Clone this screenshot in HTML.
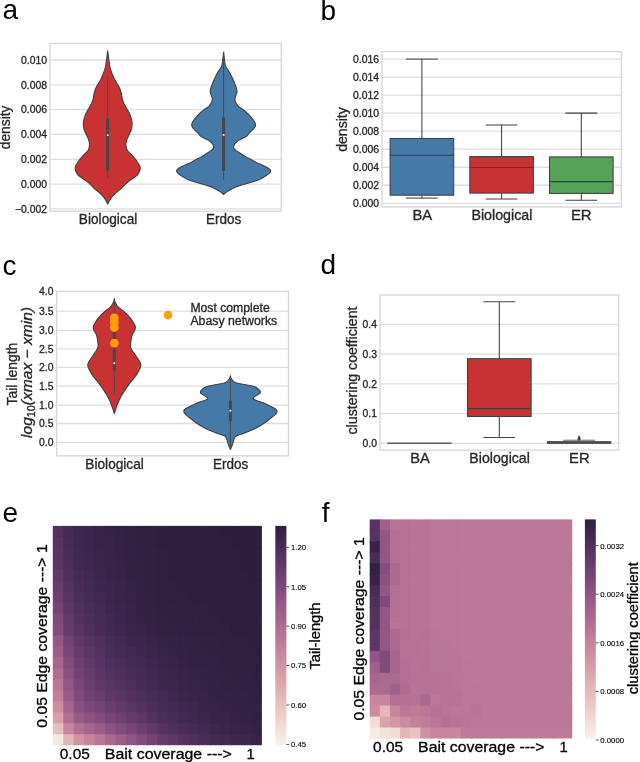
<!DOCTYPE html>
<html><head><meta charset="utf-8"><style>
html,body{margin:0;padding:0;background:#fff;}
svg{display:block;will-change:transform;font-family:"Liberation Sans", sans-serif;}
</style></head><body>
<svg width="640" height="762" viewBox="0 0 640 762">
<rect width="640" height="762" fill="#fff"/>
<text x="2.5" y="18.6" font-size="28" text-anchor="start" fill="#000000" style="">a</text>
<text x="320.5" y="19.7" font-size="28" text-anchor="start" fill="#000000" style="">b</text>
<text x="2.5" y="274.7" font-size="28" text-anchor="start" fill="#000000" style="">c</text>
<text x="320.5" y="274.4" font-size="28" text-anchor="start" fill="#000000" style="">d</text>
<text x="2.5" y="521.6" font-size="28" text-anchor="start" fill="#000000" style="">e</text>
<text x="321.8" y="521.9" font-size="28" text-anchor="start" fill="#000000" style="">f</text>
<line x1="50" y1="60.00" x2="281.25" y2="60.00" stroke="#dedede" stroke-width="1.3"/>
<line x1="50" y1="84.82" x2="281.25" y2="84.82" stroke="#dedede" stroke-width="1.3"/>
<line x1="50" y1="109.64" x2="281.25" y2="109.64" stroke="#dedede" stroke-width="1.3"/>
<line x1="50" y1="134.46" x2="281.25" y2="134.46" stroke="#dedede" stroke-width="1.3"/>
<line x1="50" y1="159.28" x2="281.25" y2="159.28" stroke="#dedede" stroke-width="1.3"/>
<line x1="50" y1="184.10" x2="281.25" y2="184.10" stroke="#dedede" stroke-width="1.3"/>
<line x1="50" y1="208.92" x2="281.25" y2="208.92" stroke="#dedede" stroke-width="1.3"/>
<rect x="50" y="43.4" width="231.25" height="167.79999999999998" fill="none" stroke="#d6d6d6" stroke-width="1.3"/>
<text x="47" y="63.7" font-size="10.4" text-anchor="end" fill="#262626" style="" stroke="#262626" stroke-width="0.3">0.010</text>
<text x="47" y="88.52" font-size="10.4" text-anchor="end" fill="#262626" style="" stroke="#262626" stroke-width="0.3">0.008</text>
<text x="47" y="113.33999999999999" font-size="10.4" text-anchor="end" fill="#262626" style="" stroke="#262626" stroke-width="0.3">0.006</text>
<text x="47" y="138.15999999999997" font-size="10.4" text-anchor="end" fill="#262626" style="" stroke="#262626" stroke-width="0.3">0.004</text>
<text x="47" y="162.98" font-size="10.4" text-anchor="end" fill="#262626" style="" stroke="#262626" stroke-width="0.3">0.002</text>
<text x="47" y="187.79999999999998" font-size="10.4" text-anchor="end" fill="#262626" style="" stroke="#262626" stroke-width="0.3">0.000</text>
<text x="47" y="212.61999999999998" font-size="10.4" text-anchor="end" fill="#262626" style="" stroke="#262626" stroke-width="0.3">−0.002</text>
<text x="10.3" y="127.4" font-size="14.2" text-anchor="middle" fill="#262626" transform="rotate(-90 10.3 127.4)" textLength="43.6" lengthAdjust="spacingAndGlyphs" style="" stroke="#262626" stroke-width="0.3">density</text>
<path d="M107.70,50.80 L107.86,52.09 L108.02,53.38 L108.19,54.67 L108.36,55.96 L108.53,57.25 L108.71,58.54 L108.89,59.83 L109.07,61.12 L109.26,62.41 L109.43,63.70 L109.61,64.99 L109.82,66.28 L110.09,67.57 L110.45,68.86 L110.86,70.15 L111.31,71.44 L111.76,72.73 L112.23,74.02 L112.75,75.31 L113.29,76.60 L113.88,77.89 L114.54,79.18 L115.26,80.47 L116.00,81.76 L116.73,83.05 L117.49,84.34 L118.29,85.63 L119.04,86.92 L119.66,88.21 L120.16,89.50 L120.59,90.79 L120.96,92.08 L121.29,93.37 L121.54,94.66 L121.76,95.95 L121.98,97.24 L122.24,98.53 L122.57,99.82 L123.00,101.11 L123.51,102.40 L124.06,103.69 L124.66,104.98 L125.34,106.27 L126.05,107.56 L126.79,108.85 L127.59,110.14 L128.37,111.43 L129.07,112.72 L129.64,114.01 L130.16,115.30 L130.63,116.59 L131.03,117.88 L131.38,119.17 L131.72,120.46 L131.99,121.75 L132.10,123.04 L132.06,124.33 L131.97,125.62 L131.84,126.91 L131.67,128.19 L131.36,129.48 L130.89,130.77 L130.31,132.06 L129.71,133.35 L129.15,134.64 L128.52,135.93 L127.84,137.22 L127.22,138.51 L126.75,139.80 L126.42,141.09 L126.13,142.38 L125.94,143.67 L125.91,144.96 L126.03,146.25 L126.26,147.54 L126.58,148.83 L127.05,150.12 L128.03,151.41 L129.32,152.70 L130.72,153.99 L132.01,155.28 L133.13,156.57 L134.27,157.86 L135.36,159.15 L136.33,160.44 L137.18,161.73 L138.05,163.02 L138.89,164.31 L139.59,165.60 L140.06,166.89 L140.20,168.18 L140.04,169.47 L139.68,170.76 L139.16,172.05 L138.52,173.34 L137.78,174.63 L136.44,175.92 L134.59,177.21 L132.61,178.50 L130.85,179.79 L129.12,181.08 L127.43,182.37 L125.91,183.66 L124.62,184.95 L123.43,186.24 L122.19,187.53 L120.77,188.82 L119.20,190.11 L117.60,191.40 L116.10,192.69 L114.67,193.98 L113.30,195.27 L112.11,196.56 L111.14,197.85 L110.29,199.14 L109.54,200.43 L108.85,201.72 L108.24,203.01 L107.70,204.30 L107.70,204.30 L107.16,203.01 L106.55,201.72 L105.86,200.43 L105.11,199.14 L104.26,197.85 L103.29,196.56 L102.10,195.27 L100.73,193.98 L99.30,192.69 L97.80,191.40 L96.20,190.11 L94.63,188.82 L93.21,187.53 L91.97,186.24 L90.78,184.95 L89.49,183.66 L87.97,182.37 L86.28,181.08 L84.55,179.79 L82.79,178.50 L80.81,177.21 L78.96,175.92 L77.62,174.63 L76.88,173.34 L76.24,172.05 L75.72,170.76 L75.36,169.47 L75.20,168.18 L75.34,166.89 L75.81,165.60 L76.51,164.31 L77.35,163.02 L78.22,161.73 L79.07,160.44 L80.04,159.15 L81.13,157.86 L82.27,156.57 L83.39,155.28 L84.68,153.99 L86.08,152.70 L87.37,151.41 L88.35,150.12 L88.82,148.83 L89.14,147.54 L89.37,146.25 L89.49,144.96 L89.46,143.67 L89.27,142.38 L88.98,141.09 L88.65,139.80 L88.18,138.51 L87.56,137.22 L86.88,135.93 L86.25,134.64 L85.69,133.35 L85.09,132.06 L84.51,130.77 L84.04,129.48 L83.73,128.19 L83.56,126.91 L83.43,125.62 L83.34,124.33 L83.30,123.04 L83.41,121.75 L83.68,120.46 L84.02,119.17 L84.37,117.88 L84.77,116.59 L85.24,115.30 L85.76,114.01 L86.33,112.72 L87.03,111.43 L87.81,110.14 L88.61,108.85 L89.35,107.56 L90.06,106.27 L90.74,104.98 L91.34,103.69 L91.89,102.40 L92.40,101.11 L92.83,99.82 L93.16,98.53 L93.42,97.24 L93.64,95.95 L93.86,94.66 L94.11,93.37 L94.44,92.08 L94.81,90.79 L95.24,89.50 L95.74,88.21 L96.36,86.92 L97.11,85.63 L97.91,84.34 L98.67,83.05 L99.40,81.76 L100.14,80.47 L100.86,79.18 L101.52,77.89 L102.11,76.60 L102.65,75.31 L103.17,74.02 L103.64,72.73 L104.09,71.44 L104.54,70.15 L104.95,68.86 L105.31,67.57 L105.58,66.28 L105.79,64.99 L105.97,63.70 L106.14,62.41 L106.33,61.12 L106.51,59.83 L106.69,58.54 L106.87,57.25 L107.04,55.96 L107.21,54.67 L107.38,53.38 L107.54,52.09 L107.70,50.80 Z" fill="#c93232" stroke="#3f3f3f" stroke-width="1.1" stroke-linejoin="round"/>
<line x1="107.7" y1="76.5" x2="107.7" y2="178.2" stroke="#4a4a4a" stroke-width="1.0"/>
<rect x="106.2" y="118.3" width="3" height="52.3" fill="#474747"/>
<ellipse cx="107.7" cy="135.2" rx="1.1" ry="0.9" fill="#ffffff"/>
<path d="M223.60,52.00 L223.74,53.20 L223.87,54.39 L224.01,55.59 L224.16,56.79 L224.30,57.99 L224.43,59.18 L224.55,60.38 L224.67,61.58 L224.82,62.78 L225.00,63.97 L225.27,65.17 L225.74,66.37 L226.37,67.57 L227.11,68.76 L227.90,69.96 L228.70,71.16 L229.44,72.36 L230.08,73.55 L230.69,74.75 L231.30,75.95 L231.91,77.15 L232.50,78.34 L233.07,79.54 L233.61,80.74 L234.12,81.94 L234.59,83.13 L235.02,84.33 L235.45,85.53 L235.90,86.73 L236.31,87.92 L236.66,89.12 L236.90,90.32 L237.00,91.52 L236.88,92.71 L236.54,93.91 L236.07,95.11 L235.58,96.31 L235.17,97.50 L234.93,98.70 L234.95,99.90 L235.21,101.10 L235.69,102.29 L236.33,103.49 L237.08,104.69 L237.92,105.89 L239.16,107.08 L240.99,108.28 L242.89,109.48 L244.45,110.68 L245.92,111.87 L247.32,113.07 L248.55,114.27 L249.59,115.47 L250.61,116.66 L251.63,117.86 L252.61,119.06 L253.51,120.26 L254.29,121.45 L254.91,122.65 L255.33,123.85 L255.50,125.05 L255.31,126.24 L254.67,127.44 L253.71,128.64 L252.54,129.84 L251.26,131.03 L250.00,132.23 L248.87,133.43 L247.95,134.63 L246.98,135.82 L245.34,137.02 L242.97,138.22 L240.40,139.42 L238.19,140.61 L236.75,141.81 L235.53,143.01 L234.53,144.21 L233.90,145.40 L233.67,146.60 L233.63,147.80 L234.31,149.00 L235.67,150.19 L237.42,151.39 L239.27,152.59 L240.99,153.79 L242.83,154.98 L244.85,156.18 L247.00,157.38 L249.22,158.58 L251.46,159.77 L253.67,160.97 L255.80,162.17 L258.19,163.37 L260.88,164.56 L263.64,165.76 L266.22,166.96 L268.40,168.16 L269.93,169.35 L270.59,170.55 L270.36,171.75 L269.56,172.95 L268.29,174.14 L266.65,175.34 L264.73,176.54 L262.64,177.74 L260.47,178.93 L258.00,180.13 L254.55,181.33 L250.43,182.53 L246.04,183.72 L241.77,184.92 L238.00,186.12 L235.08,187.32 L232.57,188.51 L230.31,189.71 L228.28,190.91 L226.47,192.11 L224.91,193.30 L223.60,194.50 L223.60,194.50 L222.29,193.30 L220.73,192.11 L218.92,190.91 L216.89,189.71 L214.63,188.51 L212.12,187.32 L209.20,186.12 L205.43,184.92 L201.16,183.72 L196.77,182.53 L192.65,181.33 L189.20,180.13 L186.73,178.93 L184.56,177.74 L182.47,176.54 L180.55,175.34 L178.91,174.14 L177.64,172.95 L176.84,171.75 L176.61,170.55 L177.27,169.35 L178.80,168.16 L180.98,166.96 L183.56,165.76 L186.32,164.56 L189.01,163.37 L191.40,162.17 L193.53,160.97 L195.74,159.77 L197.98,158.58 L200.20,157.38 L202.35,156.18 L204.37,154.98 L206.21,153.79 L207.93,152.59 L209.78,151.39 L211.53,150.19 L212.89,149.00 L213.57,147.80 L213.53,146.60 L213.30,145.40 L212.67,144.21 L211.67,143.01 L210.45,141.81 L209.01,140.61 L206.80,139.42 L204.23,138.22 L201.86,137.02 L200.22,135.82 L199.25,134.63 L198.33,133.43 L197.20,132.23 L195.94,131.03 L194.66,129.84 L193.49,128.64 L192.53,127.44 L191.89,126.24 L191.70,125.05 L191.87,123.85 L192.29,122.65 L192.91,121.45 L193.69,120.26 L194.59,119.06 L195.57,117.86 L196.59,116.66 L197.61,115.47 L198.65,114.27 L199.88,113.07 L201.28,111.87 L202.75,110.68 L204.31,109.48 L206.21,108.28 L208.04,107.08 L209.28,105.89 L210.12,104.69 L210.87,103.49 L211.51,102.29 L211.99,101.10 L212.25,99.90 L212.27,98.70 L212.03,97.50 L211.62,96.31 L211.13,95.11 L210.66,93.91 L210.32,92.71 L210.20,91.52 L210.30,90.32 L210.54,89.12 L210.89,87.92 L211.30,86.73 L211.75,85.53 L212.18,84.33 L212.61,83.13 L213.08,81.94 L213.59,80.74 L214.13,79.54 L214.70,78.34 L215.29,77.15 L215.90,75.95 L216.51,74.75 L217.12,73.55 L217.76,72.36 L218.50,71.16 L219.30,69.96 L220.09,68.76 L220.83,67.57 L221.46,66.37 L221.93,65.17 L222.20,63.97 L222.38,62.78 L222.53,61.58 L222.65,60.38 L222.77,59.18 L222.90,57.99 L223.04,56.79 L223.19,55.59 L223.33,54.39 L223.46,53.20 L223.60,52.00 Z" fill="#4479a8" stroke="#3f3f3f" stroke-width="1.1" stroke-linejoin="round"/>
<line x1="223.6" y1="52" x2="223.6" y2="179.9" stroke="#4a4a4a" stroke-width="1.0"/>
<rect x="222.1" y="117.4" width="3" height="53.5" fill="#474747"/>
<ellipse cx="223.6" cy="134.9" rx="1.1" ry="0.9" fill="#ffffff"/>
<text x="108.1" y="223.6" font-size="14.2" text-anchor="middle" fill="#262626" textLength="58.5" lengthAdjust="spacingAndGlyphs" style="" stroke="#262626" stroke-width="0.3">Biological</text>
<text x="223.6" y="223.6" font-size="14.2" text-anchor="middle" fill="#262626" textLength="35.3" lengthAdjust="spacingAndGlyphs" style="" stroke="#262626" stroke-width="0.3">Erdos</text>
<line x1="382" y1="203.30" x2="621.25" y2="203.30" stroke="#dedede" stroke-width="1.3"/>
<line x1="382" y1="185.27" x2="621.25" y2="185.27" stroke="#dedede" stroke-width="1.3"/>
<line x1="382" y1="167.24" x2="621.25" y2="167.24" stroke="#dedede" stroke-width="1.3"/>
<line x1="382" y1="149.21" x2="621.25" y2="149.21" stroke="#dedede" stroke-width="1.3"/>
<line x1="382" y1="131.18" x2="621.25" y2="131.18" stroke="#dedede" stroke-width="1.3"/>
<line x1="382" y1="113.15" x2="621.25" y2="113.15" stroke="#dedede" stroke-width="1.3"/>
<line x1="382" y1="95.12" x2="621.25" y2="95.12" stroke="#dedede" stroke-width="1.3"/>
<line x1="382" y1="77.09" x2="621.25" y2="77.09" stroke="#dedede" stroke-width="1.3"/>
<line x1="382" y1="59.06" x2="621.25" y2="59.06" stroke="#dedede" stroke-width="1.3"/>
<rect x="382" y="51.7" width="239.25" height="155.3" fill="none" stroke="#d6d6d6" stroke-width="1.3"/>
<text x="379" y="207.0" font-size="10.4" text-anchor="end" fill="#262626" style="" stroke="#262626" stroke-width="0.3">0.000</text>
<text x="379" y="188.97" font-size="10.4" text-anchor="end" fill="#262626" style="" stroke="#262626" stroke-width="0.3">0.002</text>
<text x="379" y="170.94" font-size="10.4" text-anchor="end" fill="#262626" style="" stroke="#262626" stroke-width="0.3">0.004</text>
<text x="379" y="152.91" font-size="10.4" text-anchor="end" fill="#262626" style="" stroke="#262626" stroke-width="0.3">0.006</text>
<text x="379" y="134.88" font-size="10.4" text-anchor="end" fill="#262626" style="" stroke="#262626" stroke-width="0.3">0.008</text>
<text x="379" y="116.85000000000001" font-size="10.4" text-anchor="end" fill="#262626" style="" stroke="#262626" stroke-width="0.3">0.010</text>
<text x="379" y="98.82000000000001" font-size="10.4" text-anchor="end" fill="#262626" style="" stroke="#262626" stroke-width="0.3">0.012</text>
<text x="379" y="80.79" font-size="10.4" text-anchor="end" fill="#262626" style="" stroke="#262626" stroke-width="0.3">0.014</text>
<text x="379" y="62.760000000000005" font-size="10.4" text-anchor="end" fill="#262626" style="" stroke="#262626" stroke-width="0.3">0.016</text>
<text x="346.9" y="129.5" font-size="14.2" text-anchor="middle" fill="#262626" transform="rotate(-90 346.9 129.5)" textLength="44.6" lengthAdjust="spacingAndGlyphs" style="" stroke="#262626" stroke-width="0.3">density</text>
<line x1="421.9" y1="59.1" x2="421.9" y2="138.5" stroke="#3f3f3f" stroke-width="1.05"/>
<line x1="421.9" y1="195.2" x2="421.9" y2="198.1" stroke="#3f3f3f" stroke-width="1.05"/>
<line x1="406.0" y1="59.1" x2="437.79999999999995" y2="59.1" stroke="#3f3f3f" stroke-width="1.05"/>
<line x1="406.0" y1="198.1" x2="437.79999999999995" y2="198.1" stroke="#3f3f3f" stroke-width="1.05"/>
<rect x="390.09999999999997" y="138.5" width="63.6" height="56.69999999999999" fill="#4479a8" stroke="#3f3f3f" stroke-width="1.05"/>
<line x1="390.09999999999997" y1="155.3" x2="453.7" y2="155.3" stroke="#3f3f3f" stroke-width="1.05"/>
<line x1="501.6" y1="125.0" x2="501.6" y2="156.6" stroke="#3f3f3f" stroke-width="1.05"/>
<line x1="501.6" y1="193.1" x2="501.6" y2="199.0" stroke="#3f3f3f" stroke-width="1.05"/>
<line x1="485.70000000000005" y1="125.0" x2="517.5" y2="125.0" stroke="#3f3f3f" stroke-width="1.05"/>
<line x1="485.70000000000005" y1="199.0" x2="517.5" y2="199.0" stroke="#3f3f3f" stroke-width="1.05"/>
<rect x="469.8" y="156.6" width="63.6" height="36.5" fill="#c93232" stroke="#3f3f3f" stroke-width="1.05"/>
<line x1="469.8" y1="167.5" x2="533.4" y2="167.5" stroke="#3f3f3f" stroke-width="1.05"/>
<line x1="581.3" y1="113.1" x2="581.3" y2="156.9" stroke="#3f3f3f" stroke-width="1.05"/>
<line x1="581.3" y1="193.4" x2="581.3" y2="200.3" stroke="#3f3f3f" stroke-width="1.05"/>
<line x1="565.4" y1="113.1" x2="597.1999999999999" y2="113.1" stroke="#3f3f3f" stroke-width="1.05"/>
<line x1="565.4" y1="200.3" x2="597.1999999999999" y2="200.3" stroke="#3f3f3f" stroke-width="1.05"/>
<rect x="549.5" y="156.9" width="63.6" height="36.5" fill="#58a257" stroke="#3f3f3f" stroke-width="1.05"/>
<line x1="549.5" y1="181.6" x2="613.0999999999999" y2="181.6" stroke="#3f3f3f" stroke-width="1.05"/>
<text x="422.3" y="219.9" font-size="14.0" text-anchor="middle" fill="#262626" textLength="19.8" lengthAdjust="spacingAndGlyphs" style="" stroke="#262626" stroke-width="0.3">BA</text>
<text x="501.9" y="219.9" font-size="14.0" text-anchor="middle" fill="#262626" textLength="61" lengthAdjust="spacingAndGlyphs" style="" stroke="#262626" stroke-width="0.3">Biological</text>
<text x="581.3" y="219.9" font-size="14.0" text-anchor="middle" fill="#262626" textLength="20.8" lengthAdjust="spacingAndGlyphs" style="" stroke="#262626" stroke-width="0.3">ER</text>
<line x1="56.7" y1="442.30" x2="288.4" y2="442.30" stroke="#dedede" stroke-width="1.3"/>
<line x1="56.7" y1="423.50" x2="288.4" y2="423.50" stroke="#dedede" stroke-width="1.3"/>
<line x1="56.7" y1="405.10" x2="288.4" y2="405.10" stroke="#dedede" stroke-width="1.3"/>
<line x1="56.7" y1="386.20" x2="288.4" y2="386.20" stroke="#dedede" stroke-width="1.3"/>
<line x1="56.7" y1="367.40" x2="288.4" y2="367.40" stroke="#dedede" stroke-width="1.3"/>
<line x1="56.7" y1="348.90" x2="288.4" y2="348.90" stroke="#dedede" stroke-width="1.3"/>
<line x1="56.7" y1="330.40" x2="288.4" y2="330.40" stroke="#dedede" stroke-width="1.3"/>
<line x1="56.7" y1="311.20" x2="288.4" y2="311.20" stroke="#dedede" stroke-width="1.3"/>
<line x1="56.7" y1="291.60" x2="288.4" y2="291.60" stroke="#dedede" stroke-width="1.3"/>
<rect x="56.7" y="291.3" width="231.7" height="164.59999999999997" fill="none" stroke="#d6d6d6" stroke-width="1.3"/>
<text x="53.5" y="446.0" font-size="10.4" text-anchor="end" fill="#262626" style="" stroke="#262626" stroke-width="0.3">0.0</text>
<text x="53.5" y="427.2" font-size="10.4" text-anchor="end" fill="#262626" style="" stroke="#262626" stroke-width="0.3">0.5</text>
<text x="53.5" y="408.8" font-size="10.4" text-anchor="end" fill="#262626" style="" stroke="#262626" stroke-width="0.3">1.0</text>
<text x="53.5" y="389.9" font-size="10.4" text-anchor="end" fill="#262626" style="" stroke="#262626" stroke-width="0.3">1.5</text>
<text x="53.5" y="371.09999999999997" font-size="10.4" text-anchor="end" fill="#262626" style="" stroke="#262626" stroke-width="0.3">2.0</text>
<text x="53.5" y="352.59999999999997" font-size="10.4" text-anchor="end" fill="#262626" style="" stroke="#262626" stroke-width="0.3">2.5</text>
<text x="53.5" y="334.09999999999997" font-size="10.4" text-anchor="end" fill="#262626" style="" stroke="#262626" stroke-width="0.3">3.0</text>
<text x="53.5" y="314.9" font-size="10.4" text-anchor="end" fill="#262626" style="" stroke="#262626" stroke-width="0.3">3.5</text>
<text x="53.5" y="295.3" font-size="10.4" text-anchor="end" fill="#262626" style="" stroke="#262626" stroke-width="0.3">4.0</text>
<text x="16.9" y="374.1" font-size="14.3" text-anchor="middle" fill="#262626" transform="rotate(-90 16.9 374.1)" textLength="63" lengthAdjust="spacingAndGlyphs" style="" stroke="#262626" stroke-width="0.3">Tail length</text>
<text x="31.8" y="372.5" font-size="14.5" text-anchor="middle" fill="#262626" transform="rotate(-90 31.8 372.5)" textLength="131" lengthAdjust="spacingAndGlyphs" style="font-style:italic" stroke="#262626" stroke-width="0.3">log<tspan font-size="10" dy="3" font-style="normal">10</tspan><tspan dy="-3">(xmax − xmin)</tspan></text>
<path d="M114.30,298.50 L114.37,299.47 L114.58,300.44 L114.89,301.40 L115.30,302.37 L115.77,303.34 L116.29,304.31 L116.83,305.28 L117.51,306.24 L118.47,307.21 L119.62,308.18 L120.90,309.15 L122.20,310.12 L123.45,311.08 L124.55,312.05 L125.52,313.02 L126.49,313.99 L127.45,314.96 L128.38,315.93 L129.27,316.89 L130.12,317.86 L130.90,318.83 L131.61,319.80 L132.24,320.77 L132.85,321.73 L133.47,322.70 L134.07,323.67 L134.60,324.64 L135.02,325.61 L135.30,326.57 L135.40,327.54 L135.28,328.51 L134.99,329.48 L134.55,330.45 L134.03,331.41 L133.47,332.38 L132.92,333.35 L132.42,334.32 L132.02,335.29 L131.77,336.25 L131.58,337.22 L131.40,338.19 L131.22,339.16 L131.06,340.13 L130.91,341.09 L130.78,342.06 L130.67,343.03 L130.59,344.00 L130.53,344.97 L130.50,345.94 L130.55,346.90 L130.79,347.87 L131.22,348.84 L131.77,349.81 L132.43,350.78 L133.13,351.74 L133.84,352.71 L134.51,353.68 L135.12,354.65 L135.68,355.62 L136.31,356.58 L137.00,357.55 L137.70,358.52 L138.39,359.49 L139.04,360.46 L139.63,361.42 L140.13,362.39 L140.51,363.36 L140.74,364.33 L140.80,365.30 L140.68,366.26 L140.42,367.23 L140.05,368.20 L139.60,369.17 L139.11,370.14 L138.60,371.11 L138.11,372.07 L137.59,373.04 L137.00,374.01 L136.35,374.98 L135.65,375.95 L134.90,376.91 L134.13,377.88 L133.34,378.85 L132.53,379.82 L131.73,380.79 L130.92,381.75 L130.14,382.72 L129.38,383.69 L128.66,384.66 L127.98,385.63 L127.33,386.59 L126.67,387.56 L126.02,388.53 L125.37,389.50 L124.72,390.47 L124.09,391.43 L123.46,392.40 L122.85,393.37 L122.26,394.34 L121.68,395.31 L121.13,396.27 L120.59,397.24 L120.09,398.21 L119.61,399.18 L119.16,400.15 L118.73,401.12 L118.32,402.08 L117.92,403.05 L117.54,404.02 L117.18,404.99 L116.82,405.96 L116.47,406.92 L116.13,407.89 L115.80,408.86 L115.48,409.83 L115.17,410.80 L114.87,411.76 L114.58,412.73 L114.30,413.70 L114.30,413.70 L114.02,412.73 L113.73,411.76 L113.43,410.80 L113.12,409.83 L112.80,408.86 L112.47,407.89 L112.13,406.92 L111.78,405.96 L111.42,404.99 L111.06,404.02 L110.68,403.05 L110.28,402.08 L109.87,401.12 L109.44,400.15 L108.99,399.18 L108.51,398.21 L108.01,397.24 L107.47,396.27 L106.92,395.31 L106.34,394.34 L105.75,393.37 L105.14,392.40 L104.51,391.43 L103.88,390.47 L103.23,389.50 L102.58,388.53 L101.93,387.56 L101.27,386.59 L100.62,385.63 L99.94,384.66 L99.22,383.69 L98.46,382.72 L97.68,381.75 L96.87,380.79 L96.07,379.82 L95.26,378.85 L94.47,377.88 L93.70,376.91 L92.95,375.95 L92.25,374.98 L91.60,374.01 L91.01,373.04 L90.49,372.07 L90.00,371.11 L89.49,370.14 L89.00,369.17 L88.55,368.20 L88.18,367.23 L87.92,366.26 L87.80,365.30 L87.86,364.33 L88.09,363.36 L88.47,362.39 L88.97,361.42 L89.56,360.46 L90.21,359.49 L90.90,358.52 L91.60,357.55 L92.29,356.58 L92.92,355.62 L93.48,354.65 L94.09,353.68 L94.76,352.71 L95.47,351.74 L96.17,350.78 L96.83,349.81 L97.38,348.84 L97.81,347.87 L98.05,346.90 L98.10,345.94 L98.07,344.97 L98.01,344.00 L97.93,343.03 L97.82,342.06 L97.69,341.09 L97.54,340.13 L97.38,339.16 L97.20,338.19 L97.02,337.22 L96.83,336.25 L96.58,335.29 L96.18,334.32 L95.68,333.35 L95.13,332.38 L94.57,331.41 L94.05,330.45 L93.61,329.48 L93.32,328.51 L93.20,327.54 L93.30,326.57 L93.58,325.61 L94.00,324.64 L94.53,323.67 L95.13,322.70 L95.75,321.73 L96.36,320.77 L96.99,319.80 L97.70,318.83 L98.48,317.86 L99.33,316.89 L100.22,315.93 L101.15,314.96 L102.11,313.99 L103.08,313.02 L104.05,312.05 L105.15,311.08 L106.40,310.12 L107.70,309.15 L108.98,308.18 L110.13,307.21 L111.09,306.24 L111.77,305.28 L112.31,304.31 L112.83,303.34 L113.30,302.37 L113.71,301.40 L114.02,300.44 L114.23,299.47 L114.30,298.50 Z" fill="#c93232" stroke="#3f3f3f" stroke-width="1.1" stroke-linejoin="round"/>
<line x1="114.3" y1="300" x2="114.3" y2="395.1" stroke="#4a4a4a" stroke-width="1.0"/>
<rect x="112.8" y="331.6" width="3" height="38.799999999999955" fill="#474747"/>
<ellipse cx="114.3" cy="363.1" rx="1.1" ry="0.9" fill="#ffffff"/>
<circle cx="114.3" cy="317.8" r="4.4" fill="#ff9f00"/>
<circle cx="114.3" cy="322.2" r="4.4" fill="#ff9f00"/>
<circle cx="114.3" cy="327.5" r="4.4" fill="#ff9f00"/>
<circle cx="114.3" cy="343.1" r="4.4" fill="#ff9f00"/>
<path d="M230.40,375.50 L230.44,376.12 L230.57,376.74 L230.77,377.36 L231.04,377.98 L231.39,378.61 L231.79,379.23 L232.26,379.85 L232.79,380.47 L233.37,381.09 L233.99,381.71 L234.83,382.33 L236.66,382.95 L239.32,383.57 L242.50,384.19 L245.91,384.82 L249.25,385.44 L252.22,386.06 L254.51,386.68 L255.85,387.30 L256.75,387.92 L257.60,388.54 L258.37,389.16 L259.04,389.78 L259.60,390.40 L260.03,391.03 L260.30,391.65 L260.40,392.27 L260.21,392.89 L259.66,393.51 L258.84,394.13 L257.85,394.75 L256.76,395.37 L255.68,395.99 L254.69,396.61 L253.89,397.24 L253.36,397.86 L253.21,398.48 L253.64,399.10 L254.65,399.72 L256.09,400.34 L257.83,400.96 L259.70,401.58 L261.57,402.20 L263.28,402.82 L264.69,403.45 L265.91,404.07 L267.19,404.69 L268.50,405.31 L269.83,405.93 L271.13,406.55 L272.38,407.17 L273.54,407.79 L274.58,408.41 L275.48,409.03 L276.19,409.66 L276.70,410.28 L276.97,410.90 L276.98,411.52 L276.83,412.14 L276.55,412.76 L276.15,413.38 L275.64,414.00 L275.05,414.62 L274.38,415.24 L273.65,415.87 L272.88,416.49 L272.08,417.11 L271.26,417.73 L270.44,418.35 L269.63,418.97 L268.85,419.59 L268.10,420.21 L267.32,420.83 L266.51,421.45 L265.67,422.08 L264.80,422.70 L263.90,423.32 L262.97,423.94 L262.00,424.56 L261.00,425.18 L259.97,425.80 L258.91,426.42 L257.81,427.04 L256.68,427.66 L255.52,428.29 L254.29,428.91 L252.95,429.53 L251.52,430.15 L250.02,430.77 L248.48,431.39 L246.91,432.01 L245.33,432.63 L243.73,433.25 L241.87,433.87 L239.90,434.50 L238.06,435.12 L236.60,435.74 L235.73,436.36 L235.16,436.98 L234.71,437.60 L234.34,438.22 L234.06,438.84 L233.85,439.46 L233.68,440.08 L233.55,440.71 L233.41,441.33 L233.27,441.95 L233.09,442.57 L232.90,443.19 L232.70,443.81 L232.48,444.43 L232.26,445.05 L232.02,445.67 L231.78,446.29 L231.53,446.92 L231.27,447.54 L230.99,448.16 L230.70,448.78 L230.40,449.40 L230.40,449.40 L230.10,448.78 L229.81,448.16 L229.53,447.54 L229.27,446.92 L229.02,446.29 L228.78,445.67 L228.54,445.05 L228.32,444.43 L228.10,443.81 L227.90,443.19 L227.71,442.57 L227.53,441.95 L227.39,441.33 L227.25,440.71 L227.12,440.08 L226.95,439.46 L226.74,438.84 L226.46,438.22 L226.09,437.60 L225.64,436.98 L225.07,436.36 L224.20,435.74 L222.74,435.12 L220.90,434.50 L218.93,433.87 L217.07,433.25 L215.47,432.63 L213.89,432.01 L212.32,431.39 L210.78,430.77 L209.28,430.15 L207.85,429.53 L206.51,428.91 L205.28,428.29 L204.12,427.66 L202.99,427.04 L201.89,426.42 L200.83,425.80 L199.80,425.18 L198.80,424.56 L197.83,423.94 L196.90,423.32 L196.00,422.70 L195.13,422.08 L194.29,421.45 L193.48,420.83 L192.70,420.21 L191.95,419.59 L191.17,418.97 L190.36,418.35 L189.54,417.73 L188.72,417.11 L187.92,416.49 L187.15,415.87 L186.42,415.24 L185.75,414.62 L185.16,414.00 L184.65,413.38 L184.25,412.76 L183.97,412.14 L183.82,411.52 L183.83,410.90 L184.10,410.28 L184.61,409.66 L185.32,409.03 L186.22,408.41 L187.26,407.79 L188.42,407.17 L189.67,406.55 L190.97,405.93 L192.30,405.31 L193.61,404.69 L194.89,404.07 L196.11,403.45 L197.52,402.82 L199.23,402.20 L201.10,401.58 L202.97,400.96 L204.71,400.34 L206.15,399.72 L207.16,399.10 L207.59,398.48 L207.44,397.86 L206.91,397.24 L206.11,396.61 L205.12,395.99 L204.04,395.37 L202.95,394.75 L201.96,394.13 L201.14,393.51 L200.59,392.89 L200.40,392.27 L200.50,391.65 L200.77,391.03 L201.20,390.40 L201.76,389.78 L202.43,389.16 L203.20,388.54 L204.05,387.92 L204.95,387.30 L206.29,386.68 L208.58,386.06 L211.55,385.44 L214.89,384.82 L218.30,384.19 L221.48,383.57 L224.14,382.95 L225.97,382.33 L226.81,381.71 L227.43,381.09 L228.01,380.47 L228.54,379.85 L229.01,379.23 L229.41,378.61 L229.76,377.98 L230.03,377.36 L230.23,376.74 L230.36,376.12 L230.40,375.50 Z" fill="#4479a8" stroke="#3f3f3f" stroke-width="1.1" stroke-linejoin="round"/>
<line x1="230.4" y1="377" x2="230.4" y2="447" stroke="#4a4a4a" stroke-width="1.0"/>
<rect x="228.9" y="400.6" width="3" height="20.599999999999966" fill="#474747"/>
<ellipse cx="230.4" cy="410.7" rx="1.1" ry="0.9" fill="#ffffff"/>
<circle cx="168" cy="315" r="4.3" fill="#ff9f00"/>
<text x="190.4" y="311.8" font-size="12.3" text-anchor="start" fill="#262626" textLength="79.3" lengthAdjust="spacingAndGlyphs" style="" stroke="#262626" stroke-width="0.3">Most complete</text>
<text x="190.4" y="325.0" font-size="12.3" text-anchor="start" fill="#262626" textLength="86.8" lengthAdjust="spacingAndGlyphs" style="" stroke="#262626" stroke-width="0.3">Abasy networks</text>
<text x="114.6" y="468.75" font-size="14.2" text-anchor="middle" fill="#262626" textLength="58.5" lengthAdjust="spacingAndGlyphs" style="" stroke="#262626" stroke-width="0.3">Biological</text>
<text x="230.6" y="468.75" font-size="14.2" text-anchor="middle" fill="#262626" textLength="35.3" lengthAdjust="spacingAndGlyphs" style="" stroke="#262626" stroke-width="0.3">Erdos</text>
<line x1="379.9" y1="443.30" x2="618.7" y2="443.30" stroke="#dedede" stroke-width="1.3"/>
<line x1="379.9" y1="413.58" x2="618.7" y2="413.58" stroke="#dedede" stroke-width="1.3"/>
<line x1="379.9" y1="383.86" x2="618.7" y2="383.86" stroke="#dedede" stroke-width="1.3"/>
<line x1="379.9" y1="354.14" x2="618.7" y2="354.14" stroke="#dedede" stroke-width="1.3"/>
<line x1="379.9" y1="324.42" x2="618.7" y2="324.42" stroke="#dedede" stroke-width="1.3"/>
<rect x="379.9" y="295.0" width="238.80000000000007" height="155.10000000000002" fill="none" stroke="#d6d6d6" stroke-width="1.3"/>
<text x="377" y="447.0" font-size="10.4" text-anchor="end" fill="#262626" style="" stroke="#262626" stroke-width="0.3">0.0</text>
<text x="377" y="417.28000000000003" font-size="10.4" text-anchor="end" fill="#262626" style="" stroke="#262626" stroke-width="0.3">0.1</text>
<text x="377" y="387.56" font-size="10.4" text-anchor="end" fill="#262626" style="" stroke="#262626" stroke-width="0.3">0.2</text>
<text x="377" y="357.84" font-size="10.4" text-anchor="end" fill="#262626" style="" stroke="#262626" stroke-width="0.3">0.3</text>
<text x="377" y="328.12" font-size="10.4" text-anchor="end" fill="#262626" style="" stroke="#262626" stroke-width="0.3">0.4</text>
<text x="356.9" y="370.45" font-size="14.2" text-anchor="middle" fill="#262626" transform="rotate(-90 356.9 370.45)" textLength="128" lengthAdjust="spacingAndGlyphs" style="" stroke="#262626" stroke-width="0.3">clustering coefficient</text>
<line x1="387.3" y1="443.3" x2="451.6" y2="443.3" stroke="#5c5c5c" stroke-width="1.5"/>
<line x1="499.3" y1="301.7" x2="499.3" y2="358.7" stroke="#3f3f3f" stroke-width="1.05"/>
<line x1="499.3" y1="416.5" x2="499.3" y2="437.4" stroke="#3f3f3f" stroke-width="1.05"/>
<line x1="483.40000000000003" y1="301.7" x2="515.2" y2="301.7" stroke="#3f3f3f" stroke-width="1.05"/>
<line x1="483.40000000000003" y1="437.4" x2="515.2" y2="437.4" stroke="#3f3f3f" stroke-width="1.05"/>
<rect x="467.5" y="358.7" width="63.6" height="57.80000000000001" fill="#c93232" stroke="#3f3f3f" stroke-width="1.05"/>
<line x1="467.5" y1="408.6" x2="531.1" y2="408.6" stroke="#3f3f3f" stroke-width="1.05"/>
<line x1="563.1" y1="440.3" x2="595" y2="440.3" stroke="#8a8a8a" stroke-width="1.3"/>
<rect x="546.9" y="441.1" width="64.4" height="2.8" fill="#4a4a4a"/>
<path d="M579.1,435.3 C580.6,436.8 580.9,438.5 580.6,440.5 L577.6,440.5 C577.3,438.5 577.6,436.8 579.1,435.3 Z" fill="#4a4a4a"/>
<text x="420" y="462.5" font-size="14.0" text-anchor="middle" fill="#262626" textLength="19.6" lengthAdjust="spacingAndGlyphs" style="" stroke="#262626" stroke-width="0.3">BA</text>
<text x="499.6" y="462.5" font-size="14.0" text-anchor="middle" fill="#262626" textLength="60.6" lengthAdjust="spacingAndGlyphs" style="" stroke="#262626" stroke-width="0.3">Biological</text>
<text x="579.4" y="462.5" font-size="14.0" text-anchor="middle" fill="#262626" textLength="20.6" lengthAdjust="spacingAndGlyphs" style="" stroke="#262626" stroke-width="0.3">ER</text>
<rect x="52.80" y="525.90" width="11.45" height="11.97" fill="#52315f"/>
<rect x="63.25" y="525.90" width="11.45" height="11.97" fill="#452b54"/>
<rect x="73.71" y="525.90" width="11.45" height="11.97" fill="#3e274e"/>
<rect x="84.16" y="525.90" width="11.45" height="11.97" fill="#3a254b"/>
<rect x="94.62" y="525.90" width="11.45" height="11.97" fill="#382449"/>
<rect x="105.07" y="525.90" width="11.45" height="11.97" fill="#352346"/>
<rect x="115.53" y="525.90" width="11.45" height="11.97" fill="#332244"/>
<rect x="125.98" y="525.90" width="11.45" height="11.97" fill="#322143"/>
<rect x="136.44" y="525.90" width="11.45" height="11.97" fill="#302041"/>
<rect x="146.89" y="525.90" width="11.45" height="11.97" fill="#2f2040"/>
<rect x="157.35" y="525.90" width="11.45" height="11.97" fill="#2e1f3f"/>
<rect x="167.80" y="525.90" width="11.45" height="11.97" fill="#2e1f3f"/>
<rect x="178.26" y="525.90" width="11.45" height="11.97" fill="#2e1f3f"/>
<rect x="188.71" y="525.90" width="11.45" height="11.97" fill="#2d1f3f"/>
<rect x="199.17" y="525.90" width="11.45" height="11.97" fill="#2d1f3e"/>
<rect x="209.62" y="525.90" width="11.45" height="11.97" fill="#2d1f3e"/>
<rect x="220.08" y="525.90" width="11.45" height="11.97" fill="#2d1e3e"/>
<rect x="230.53" y="525.90" width="11.45" height="11.97" fill="#2d1e3e"/>
<rect x="240.99" y="525.90" width="11.45" height="11.97" fill="#2d1e3e"/>
<rect x="251.44" y="525.90" width="10.45" height="11.97" fill="#2d1e3e"/>
<rect x="52.80" y="536.87" width="11.45" height="11.97" fill="#553361"/>
<rect x="63.25" y="536.87" width="11.45" height="11.97" fill="#472c56"/>
<rect x="73.71" y="536.87" width="11.45" height="11.97" fill="#3f284f"/>
<rect x="84.16" y="536.87" width="11.45" height="11.97" fill="#3b264c"/>
<rect x="94.62" y="536.87" width="11.45" height="11.97" fill="#382449"/>
<rect x="105.07" y="536.87" width="11.45" height="11.97" fill="#362347"/>
<rect x="115.53" y="536.87" width="11.45" height="11.97" fill="#342245"/>
<rect x="125.98" y="536.87" width="11.45" height="11.97" fill="#322143"/>
<rect x="136.44" y="536.87" width="11.45" height="11.97" fill="#312042"/>
<rect x="146.89" y="536.87" width="11.45" height="11.97" fill="#2f2041"/>
<rect x="157.35" y="536.87" width="11.45" height="11.97" fill="#2e1f40"/>
<rect x="167.80" y="536.87" width="11.45" height="11.97" fill="#2e1f3f"/>
<rect x="178.26" y="536.87" width="11.45" height="11.97" fill="#2e1f3f"/>
<rect x="188.71" y="536.87" width="11.45" height="11.97" fill="#2d1f3f"/>
<rect x="199.17" y="536.87" width="11.45" height="11.97" fill="#2d1f3f"/>
<rect x="209.62" y="536.87" width="11.45" height="11.97" fill="#2d1f3e"/>
<rect x="220.08" y="536.87" width="11.45" height="11.97" fill="#2d1f3e"/>
<rect x="230.53" y="536.87" width="11.45" height="11.97" fill="#2d1e3e"/>
<rect x="240.99" y="536.87" width="11.45" height="11.97" fill="#2d1e3e"/>
<rect x="251.44" y="536.87" width="10.45" height="11.97" fill="#2d1e3e"/>
<rect x="52.80" y="547.83" width="11.45" height="11.97" fill="#583463"/>
<rect x="63.25" y="547.83" width="11.45" height="11.97" fill="#492d57"/>
<rect x="73.71" y="547.83" width="11.45" height="11.97" fill="#402851"/>
<rect x="84.16" y="547.83" width="11.45" height="11.97" fill="#3c264d"/>
<rect x="94.62" y="547.83" width="11.45" height="11.97" fill="#39254a"/>
<rect x="105.07" y="547.83" width="11.45" height="11.97" fill="#362347"/>
<rect x="115.53" y="547.83" width="11.45" height="11.97" fill="#342245"/>
<rect x="125.98" y="547.83" width="11.45" height="11.97" fill="#322144"/>
<rect x="136.44" y="547.83" width="11.45" height="11.97" fill="#312042"/>
<rect x="146.89" y="547.83" width="11.45" height="11.97" fill="#302041"/>
<rect x="157.35" y="547.83" width="11.45" height="11.97" fill="#2f1f40"/>
<rect x="167.80" y="547.83" width="11.45" height="11.97" fill="#2e1f3f"/>
<rect x="178.26" y="547.83" width="11.45" height="11.97" fill="#2e1f3f"/>
<rect x="188.71" y="547.83" width="11.45" height="11.97" fill="#2e1f3f"/>
<rect x="199.17" y="547.83" width="11.45" height="11.97" fill="#2d1f3f"/>
<rect x="209.62" y="547.83" width="11.45" height="11.97" fill="#2d1f3e"/>
<rect x="220.08" y="547.83" width="11.45" height="11.97" fill="#2d1f3e"/>
<rect x="230.53" y="547.83" width="11.45" height="11.97" fill="#2d1f3e"/>
<rect x="240.99" y="547.83" width="11.45" height="11.97" fill="#2d1e3e"/>
<rect x="251.44" y="547.83" width="10.45" height="11.97" fill="#2d1e3e"/>
<rect x="52.80" y="558.79" width="11.45" height="11.97" fill="#5b3665"/>
<rect x="63.25" y="558.79" width="11.45" height="11.97" fill="#4b2e59"/>
<rect x="73.71" y="558.79" width="11.45" height="11.97" fill="#422952"/>
<rect x="84.16" y="558.79" width="11.45" height="11.97" fill="#3e274e"/>
<rect x="94.62" y="558.79" width="11.45" height="11.97" fill="#3a254b"/>
<rect x="105.07" y="558.79" width="11.45" height="11.97" fill="#372448"/>
<rect x="115.53" y="558.79" width="11.45" height="11.97" fill="#352346"/>
<rect x="125.98" y="558.79" width="11.45" height="11.97" fill="#332244"/>
<rect x="136.44" y="558.79" width="11.45" height="11.97" fill="#312142"/>
<rect x="146.89" y="558.79" width="11.45" height="11.97" fill="#302041"/>
<rect x="157.35" y="558.79" width="11.45" height="11.97" fill="#2f1f40"/>
<rect x="167.80" y="558.79" width="11.45" height="11.97" fill="#2e1f3f"/>
<rect x="178.26" y="558.79" width="11.45" height="11.97" fill="#2e1f3f"/>
<rect x="188.71" y="558.79" width="11.45" height="11.97" fill="#2e1f3f"/>
<rect x="199.17" y="558.79" width="11.45" height="11.97" fill="#2e1f3f"/>
<rect x="209.62" y="558.79" width="11.45" height="11.97" fill="#2d1f3f"/>
<rect x="220.08" y="558.79" width="11.45" height="11.97" fill="#2d1f3e"/>
<rect x="230.53" y="558.79" width="11.45" height="11.97" fill="#2d1f3e"/>
<rect x="240.99" y="558.79" width="11.45" height="11.97" fill="#2d1e3e"/>
<rect x="251.44" y="558.79" width="10.45" height="11.97" fill="#2d1e3e"/>
<rect x="52.80" y="569.76" width="11.45" height="11.97" fill="#613969"/>
<rect x="63.25" y="569.76" width="11.45" height="11.97" fill="#4f305c"/>
<rect x="73.71" y="569.76" width="11.45" height="11.97" fill="#452b54"/>
<rect x="84.16" y="569.76" width="11.45" height="11.97" fill="#402850"/>
<rect x="94.62" y="569.76" width="11.45" height="11.97" fill="#3c264d"/>
<rect x="105.07" y="569.76" width="11.45" height="11.97" fill="#382449"/>
<rect x="115.53" y="569.76" width="11.45" height="11.97" fill="#362347"/>
<rect x="125.98" y="569.76" width="11.45" height="11.97" fill="#342245"/>
<rect x="136.44" y="569.76" width="11.45" height="11.97" fill="#322143"/>
<rect x="146.89" y="569.76" width="11.45" height="11.97" fill="#302041"/>
<rect x="157.35" y="569.76" width="11.45" height="11.97" fill="#2f1f40"/>
<rect x="167.80" y="569.76" width="11.45" height="11.97" fill="#2e1f40"/>
<rect x="178.26" y="569.76" width="11.45" height="11.97" fill="#2e1f3f"/>
<rect x="188.71" y="569.76" width="11.45" height="11.97" fill="#2e1f3f"/>
<rect x="199.17" y="569.76" width="11.45" height="11.97" fill="#2e1f3f"/>
<rect x="209.62" y="569.76" width="11.45" height="11.97" fill="#2e1f3f"/>
<rect x="220.08" y="569.76" width="11.45" height="11.97" fill="#2d1f3f"/>
<rect x="230.53" y="569.76" width="11.45" height="11.97" fill="#2d1f3e"/>
<rect x="240.99" y="569.76" width="11.45" height="11.97" fill="#2d1f3e"/>
<rect x="251.44" y="569.76" width="10.45" height="11.97" fill="#2d1e3e"/>
<rect x="52.80" y="580.73" width="11.45" height="11.97" fill="#673c6d"/>
<rect x="63.25" y="580.73" width="11.45" height="11.97" fill="#53325f"/>
<rect x="73.71" y="580.73" width="11.45" height="11.97" fill="#482c57"/>
<rect x="84.16" y="580.73" width="11.45" height="11.97" fill="#422952"/>
<rect x="94.62" y="580.73" width="11.45" height="11.97" fill="#3e274f"/>
<rect x="105.07" y="580.73" width="11.45" height="11.97" fill="#3a254b"/>
<rect x="115.53" y="580.73" width="11.45" height="11.97" fill="#372448"/>
<rect x="125.98" y="580.73" width="11.45" height="11.97" fill="#352246"/>
<rect x="136.44" y="580.73" width="11.45" height="11.97" fill="#332144"/>
<rect x="146.89" y="580.73" width="11.45" height="11.97" fill="#312042"/>
<rect x="157.35" y="580.73" width="11.45" height="11.97" fill="#2f2040"/>
<rect x="167.80" y="580.73" width="11.45" height="11.97" fill="#2f1f40"/>
<rect x="178.26" y="580.73" width="11.45" height="11.97" fill="#2e1f40"/>
<rect x="188.71" y="580.73" width="11.45" height="11.97" fill="#2e1f3f"/>
<rect x="199.17" y="580.73" width="11.45" height="11.97" fill="#2e1f3f"/>
<rect x="209.62" y="580.73" width="11.45" height="11.97" fill="#2e1f3f"/>
<rect x="220.08" y="580.73" width="11.45" height="11.97" fill="#2e1f3f"/>
<rect x="230.53" y="580.73" width="11.45" height="11.97" fill="#2d1f3f"/>
<rect x="240.99" y="580.73" width="11.45" height="11.97" fill="#2d1f3f"/>
<rect x="251.44" y="580.73" width="10.45" height="11.97" fill="#2d1f3e"/>
<rect x="52.80" y="591.69" width="11.45" height="11.97" fill="#6c3f70"/>
<rect x="63.25" y="591.69" width="11.45" height="11.97" fill="#573462"/>
<rect x="73.71" y="591.69" width="11.45" height="11.97" fill="#4b2e59"/>
<rect x="84.16" y="591.69" width="11.45" height="11.97" fill="#452b54"/>
<rect x="94.62" y="591.69" width="11.45" height="11.97" fill="#402850"/>
<rect x="105.07" y="591.69" width="11.45" height="11.97" fill="#3b264c"/>
<rect x="115.53" y="591.69" width="11.45" height="11.97" fill="#382449"/>
<rect x="125.98" y="591.69" width="11.45" height="11.97" fill="#362347"/>
<rect x="136.44" y="591.69" width="11.45" height="11.97" fill="#332244"/>
<rect x="146.89" y="591.69" width="11.45" height="11.97" fill="#312142"/>
<rect x="157.35" y="591.69" width="11.45" height="11.97" fill="#302041"/>
<rect x="167.80" y="591.69" width="11.45" height="11.97" fill="#2f2040"/>
<rect x="178.26" y="591.69" width="11.45" height="11.97" fill="#2f1f40"/>
<rect x="188.71" y="591.69" width="11.45" height="11.97" fill="#2e1f40"/>
<rect x="199.17" y="591.69" width="11.45" height="11.97" fill="#2e1f3f"/>
<rect x="209.62" y="591.69" width="11.45" height="11.97" fill="#2e1f3f"/>
<rect x="220.08" y="591.69" width="11.45" height="11.97" fill="#2e1f3f"/>
<rect x="230.53" y="591.69" width="11.45" height="11.97" fill="#2e1f3f"/>
<rect x="240.99" y="591.69" width="11.45" height="11.97" fill="#2d1f3f"/>
<rect x="251.44" y="591.69" width="10.45" height="11.97" fill="#2d1f3e"/>
<rect x="52.80" y="602.65" width="11.45" height="11.97" fill="#754475"/>
<rect x="63.25" y="602.65" width="11.45" height="11.97" fill="#5d3766"/>
<rect x="73.71" y="602.65" width="11.45" height="11.97" fill="#4f305d"/>
<rect x="84.16" y="602.65" width="11.45" height="11.97" fill="#482d57"/>
<rect x="94.62" y="602.65" width="11.45" height="11.97" fill="#432a53"/>
<rect x="105.07" y="602.65" width="11.45" height="11.97" fill="#3e274e"/>
<rect x="115.53" y="602.65" width="11.45" height="11.97" fill="#3a254b"/>
<rect x="125.98" y="602.65" width="11.45" height="11.97" fill="#372448"/>
<rect x="136.44" y="602.65" width="11.45" height="11.97" fill="#342245"/>
<rect x="146.89" y="602.65" width="11.45" height="11.97" fill="#322143"/>
<rect x="157.35" y="602.65" width="11.45" height="11.97" fill="#312042"/>
<rect x="167.80" y="602.65" width="11.45" height="11.97" fill="#302041"/>
<rect x="178.26" y="602.65" width="11.45" height="11.97" fill="#2f2041"/>
<rect x="188.71" y="602.65" width="11.45" height="11.97" fill="#2f1f40"/>
<rect x="199.17" y="602.65" width="11.45" height="11.97" fill="#2f1f40"/>
<rect x="209.62" y="602.65" width="11.45" height="11.97" fill="#2e1f3f"/>
<rect x="220.08" y="602.65" width="11.45" height="11.97" fill="#2e1f3f"/>
<rect x="230.53" y="602.65" width="11.45" height="11.97" fill="#2e1f3f"/>
<rect x="240.99" y="602.65" width="11.45" height="11.97" fill="#2e1f3f"/>
<rect x="251.44" y="602.65" width="10.45" height="11.97" fill="#2d1f3f"/>
<rect x="52.80" y="613.62" width="11.45" height="11.97" fill="#7e497a"/>
<rect x="63.25" y="613.62" width="11.45" height="11.97" fill="#633a6a"/>
<rect x="73.71" y="613.62" width="11.45" height="11.97" fill="#543260"/>
<rect x="84.16" y="613.62" width="11.45" height="11.97" fill="#4c2e5a"/>
<rect x="94.62" y="613.62" width="11.45" height="11.97" fill="#462b56"/>
<rect x="105.07" y="613.62" width="11.45" height="11.97" fill="#402850"/>
<rect x="115.53" y="613.62" width="11.45" height="11.97" fill="#3c264d"/>
<rect x="125.98" y="613.62" width="11.45" height="11.97" fill="#382449"/>
<rect x="136.44" y="613.62" width="11.45" height="11.97" fill="#352346"/>
<rect x="146.89" y="613.62" width="11.45" height="11.97" fill="#332244"/>
<rect x="157.35" y="613.62" width="11.45" height="11.97" fill="#322143"/>
<rect x="167.80" y="613.62" width="11.45" height="11.97" fill="#312042"/>
<rect x="178.26" y="613.62" width="11.45" height="11.97" fill="#302041"/>
<rect x="188.71" y="613.62" width="11.45" height="11.97" fill="#302041"/>
<rect x="199.17" y="613.62" width="11.45" height="11.97" fill="#2f1f40"/>
<rect x="209.62" y="613.62" width="11.45" height="11.97" fill="#2f1f40"/>
<rect x="220.08" y="613.62" width="11.45" height="11.97" fill="#2e1f3f"/>
<rect x="230.53" y="613.62" width="11.45" height="11.97" fill="#2e1f3f"/>
<rect x="240.99" y="613.62" width="11.45" height="11.97" fill="#2e1f3f"/>
<rect x="251.44" y="613.62" width="10.45" height="11.97" fill="#2e1f3f"/>
<rect x="52.80" y="624.59" width="11.45" height="11.97" fill="#834c7d"/>
<rect x="63.25" y="624.59" width="11.45" height="11.97" fill="#673c6d"/>
<rect x="73.71" y="624.59" width="11.45" height="11.97" fill="#573462"/>
<rect x="84.16" y="624.59" width="11.45" height="11.97" fill="#4f305c"/>
<rect x="94.62" y="624.59" width="11.45" height="11.97" fill="#482c57"/>
<rect x="105.07" y="624.59" width="11.45" height="11.97" fill="#422952"/>
<rect x="115.53" y="624.59" width="11.45" height="11.97" fill="#3d274e"/>
<rect x="125.98" y="624.59" width="11.45" height="11.97" fill="#39254a"/>
<rect x="136.44" y="624.59" width="11.45" height="11.97" fill="#362347"/>
<rect x="146.89" y="624.59" width="11.45" height="11.97" fill="#342245"/>
<rect x="157.35" y="624.59" width="11.45" height="11.97" fill="#332144"/>
<rect x="167.80" y="624.59" width="11.45" height="11.97" fill="#322143"/>
<rect x="178.26" y="624.59" width="11.45" height="11.97" fill="#312042"/>
<rect x="188.71" y="624.59" width="11.45" height="11.97" fill="#302041"/>
<rect x="199.17" y="624.59" width="11.45" height="11.97" fill="#2f2041"/>
<rect x="209.62" y="624.59" width="11.45" height="11.97" fill="#2f1f40"/>
<rect x="220.08" y="624.59" width="11.45" height="11.97" fill="#2f1f40"/>
<rect x="230.53" y="624.59" width="11.45" height="11.97" fill="#2e1f3f"/>
<rect x="240.99" y="624.59" width="11.45" height="11.97" fill="#2e1f3f"/>
<rect x="251.44" y="624.59" width="10.45" height="11.97" fill="#2e1f3f"/>
<rect x="52.80" y="635.55" width="11.45" height="11.97" fill="#945685"/>
<rect x="63.25" y="635.55" width="11.45" height="11.97" fill="#734374"/>
<rect x="73.71" y="635.55" width="11.45" height="11.97" fill="#603869"/>
<rect x="84.16" y="635.55" width="11.45" height="11.97" fill="#563462"/>
<rect x="94.62" y="635.55" width="11.45" height="11.97" fill="#4f305c"/>
<rect x="105.07" y="635.55" width="11.45" height="11.97" fill="#472c56"/>
<rect x="115.53" y="635.55" width="11.45" height="11.97" fill="#412951"/>
<rect x="125.98" y="635.55" width="11.45" height="11.97" fill="#3d274d"/>
<rect x="136.44" y="635.55" width="11.45" height="11.97" fill="#3a254b"/>
<rect x="146.89" y="635.55" width="11.45" height="11.97" fill="#382449"/>
<rect x="157.35" y="635.55" width="11.45" height="11.97" fill="#352346"/>
<rect x="167.80" y="635.55" width="11.45" height="11.97" fill="#342245"/>
<rect x="178.26" y="635.55" width="11.45" height="11.97" fill="#322144"/>
<rect x="188.71" y="635.55" width="11.45" height="11.97" fill="#312143"/>
<rect x="199.17" y="635.55" width="11.45" height="11.97" fill="#312042"/>
<rect x="209.62" y="635.55" width="11.45" height="11.97" fill="#302041"/>
<rect x="220.08" y="635.55" width="11.45" height="11.97" fill="#2f2041"/>
<rect x="230.53" y="635.55" width="11.45" height="11.97" fill="#2f1f40"/>
<rect x="240.99" y="635.55" width="11.45" height="11.97" fill="#2f1f40"/>
<rect x="251.44" y="635.55" width="10.45" height="11.97" fill="#2e1f3f"/>
<rect x="52.80" y="646.51" width="11.45" height="11.97" fill="#9e5e8a"/>
<rect x="63.25" y="646.51" width="11.45" height="11.97" fill="#7b4779"/>
<rect x="73.71" y="646.51" width="11.45" height="11.97" fill="#663c6d"/>
<rect x="84.16" y="646.51" width="11.45" height="11.97" fill="#5c3666"/>
<rect x="94.62" y="646.51" width="11.45" height="11.97" fill="#53325f"/>
<rect x="105.07" y="646.51" width="11.45" height="11.97" fill="#4a2d58"/>
<rect x="115.53" y="646.51" width="11.45" height="11.97" fill="#442a54"/>
<rect x="125.98" y="646.51" width="11.45" height="11.97" fill="#412951"/>
<rect x="136.44" y="646.51" width="11.45" height="11.97" fill="#3d274e"/>
<rect x="146.89" y="646.51" width="11.45" height="11.97" fill="#3a254b"/>
<rect x="157.35" y="646.51" width="11.45" height="11.97" fill="#372448"/>
<rect x="167.80" y="646.51" width="11.45" height="11.97" fill="#352346"/>
<rect x="178.26" y="646.51" width="11.45" height="11.97" fill="#342245"/>
<rect x="188.71" y="646.51" width="11.45" height="11.97" fill="#332144"/>
<rect x="199.17" y="646.51" width="11.45" height="11.97" fill="#312143"/>
<rect x="209.62" y="646.51" width="11.45" height="11.97" fill="#302042"/>
<rect x="220.08" y="646.51" width="11.45" height="11.97" fill="#302041"/>
<rect x="230.53" y="646.51" width="11.45" height="11.97" fill="#2f2041"/>
<rect x="240.99" y="646.51" width="11.45" height="11.97" fill="#2f1f40"/>
<rect x="251.44" y="646.51" width="10.45" height="11.97" fill="#2f1f40"/>
<rect x="52.80" y="657.48" width="11.45" height="11.97" fill="#a8668e"/>
<rect x="63.25" y="657.48" width="11.45" height="11.97" fill="#834c7d"/>
<rect x="73.71" y="657.48" width="11.45" height="11.97" fill="#6d3f70"/>
<rect x="84.16" y="657.48" width="11.45" height="11.97" fill="#613969"/>
<rect x="94.62" y="657.48" width="11.45" height="11.97" fill="#573463"/>
<rect x="105.07" y="657.48" width="11.45" height="11.97" fill="#4d2f5b"/>
<rect x="115.53" y="657.48" width="11.45" height="11.97" fill="#492d57"/>
<rect x="125.98" y="657.48" width="11.45" height="11.97" fill="#452b54"/>
<rect x="136.44" y="657.48" width="11.45" height="11.97" fill="#412951"/>
<rect x="146.89" y="657.48" width="11.45" height="11.97" fill="#3d274d"/>
<rect x="157.35" y="657.48" width="11.45" height="11.97" fill="#39254a"/>
<rect x="167.80" y="657.48" width="11.45" height="11.97" fill="#372448"/>
<rect x="178.26" y="657.48" width="11.45" height="11.97" fill="#352346"/>
<rect x="188.71" y="657.48" width="11.45" height="11.97" fill="#342245"/>
<rect x="199.17" y="657.48" width="11.45" height="11.97" fill="#332144"/>
<rect x="209.62" y="657.48" width="11.45" height="11.97" fill="#312142"/>
<rect x="220.08" y="657.48" width="11.45" height="11.97" fill="#312042"/>
<rect x="230.53" y="657.48" width="11.45" height="11.97" fill="#302041"/>
<rect x="240.99" y="657.48" width="11.45" height="11.97" fill="#2f2041"/>
<rect x="251.44" y="657.48" width="10.45" height="11.97" fill="#2f1f40"/>
<rect x="52.80" y="668.45" width="11.45" height="11.97" fill="#b16e92"/>
<rect x="63.25" y="668.45" width="11.45" height="11.97" fill="#8b5181"/>
<rect x="73.71" y="668.45" width="11.45" height="11.97" fill="#734274"/>
<rect x="84.16" y="668.45" width="11.45" height="11.97" fill="#663c6c"/>
<rect x="94.62" y="668.45" width="11.45" height="11.97" fill="#5c3666"/>
<rect x="105.07" y="668.45" width="11.45" height="11.97" fill="#52325f"/>
<rect x="115.53" y="668.45" width="11.45" height="11.97" fill="#4e2f5b"/>
<rect x="125.98" y="668.45" width="11.45" height="11.97" fill="#492d58"/>
<rect x="136.44" y="668.45" width="11.45" height="11.97" fill="#442a54"/>
<rect x="146.89" y="668.45" width="11.45" height="11.97" fill="#402850"/>
<rect x="157.35" y="668.45" width="11.45" height="11.97" fill="#3c264c"/>
<rect x="167.80" y="668.45" width="11.45" height="11.97" fill="#39254a"/>
<rect x="178.26" y="668.45" width="11.45" height="11.97" fill="#372448"/>
<rect x="188.71" y="668.45" width="11.45" height="11.97" fill="#352346"/>
<rect x="199.17" y="668.45" width="11.45" height="11.97" fill="#342245"/>
<rect x="209.62" y="668.45" width="11.45" height="11.97" fill="#322143"/>
<rect x="220.08" y="668.45" width="11.45" height="11.97" fill="#312143"/>
<rect x="230.53" y="668.45" width="11.45" height="11.97" fill="#312042"/>
<rect x="240.99" y="668.45" width="11.45" height="11.97" fill="#302041"/>
<rect x="251.44" y="668.45" width="10.45" height="11.97" fill="#2f2041"/>
<rect x="52.80" y="679.41" width="11.45" height="11.97" fill="#b97696"/>
<rect x="63.25" y="679.41" width="11.45" height="11.97" fill="#935685"/>
<rect x="73.71" y="679.41" width="11.45" height="11.97" fill="#794678"/>
<rect x="84.16" y="679.41" width="11.45" height="11.97" fill="#6b3e70"/>
<rect x="94.62" y="679.41" width="11.45" height="11.97" fill="#603969"/>
<rect x="105.07" y="679.41" width="11.45" height="11.97" fill="#593563"/>
<rect x="115.53" y="679.41" width="11.45" height="11.97" fill="#53325f"/>
<rect x="125.98" y="679.41" width="11.45" height="11.97" fill="#4e2f5b"/>
<rect x="136.44" y="679.41" width="11.45" height="11.97" fill="#482c57"/>
<rect x="146.89" y="679.41" width="11.45" height="11.97" fill="#432a53"/>
<rect x="157.35" y="679.41" width="11.45" height="11.97" fill="#3e274f"/>
<rect x="167.80" y="679.41" width="11.45" height="11.97" fill="#3b264c"/>
<rect x="178.26" y="679.41" width="11.45" height="11.97" fill="#382449"/>
<rect x="188.71" y="679.41" width="11.45" height="11.97" fill="#372348"/>
<rect x="199.17" y="679.41" width="11.45" height="11.97" fill="#352346"/>
<rect x="209.62" y="679.41" width="11.45" height="11.97" fill="#332244"/>
<rect x="220.08" y="679.41" width="11.45" height="11.97" fill="#322143"/>
<rect x="230.53" y="679.41" width="11.45" height="11.97" fill="#312143"/>
<rect x="240.99" y="679.41" width="11.45" height="11.97" fill="#312042"/>
<rect x="251.44" y="679.41" width="10.45" height="11.97" fill="#302041"/>
<rect x="52.80" y="690.38" width="11.45" height="11.97" fill="#c17f9a"/>
<rect x="63.25" y="690.38" width="11.45" height="11.97" fill="#9a5b88"/>
<rect x="73.71" y="690.38" width="11.45" height="11.97" fill="#7f4a7b"/>
<rect x="84.16" y="690.38" width="11.45" height="11.97" fill="#714173"/>
<rect x="94.62" y="690.38" width="11.45" height="11.97" fill="#683c6d"/>
<rect x="105.07" y="690.38" width="11.45" height="11.97" fill="#5f3868"/>
<rect x="115.53" y="690.38" width="11.45" height="11.97" fill="#593563"/>
<rect x="125.98" y="690.38" width="11.45" height="11.97" fill="#53325f"/>
<rect x="136.44" y="690.38" width="11.45" height="11.97" fill="#4d2f5b"/>
<rect x="146.89" y="690.38" width="11.45" height="11.97" fill="#472c56"/>
<rect x="157.35" y="690.38" width="11.45" height="11.97" fill="#412951"/>
<rect x="167.80" y="690.38" width="11.45" height="11.97" fill="#3e274e"/>
<rect x="178.26" y="690.38" width="11.45" height="11.97" fill="#3a254b"/>
<rect x="188.71" y="690.38" width="11.45" height="11.97" fill="#382449"/>
<rect x="199.17" y="690.38" width="11.45" height="11.97" fill="#362347"/>
<rect x="209.62" y="690.38" width="11.45" height="11.97" fill="#342245"/>
<rect x="220.08" y="690.38" width="11.45" height="11.97" fill="#332244"/>
<rect x="230.53" y="690.38" width="11.45" height="11.97" fill="#322143"/>
<rect x="240.99" y="690.38" width="11.45" height="11.97" fill="#312142"/>
<rect x="251.44" y="690.38" width="10.45" height="11.97" fill="#302042"/>
<rect x="52.80" y="701.34" width="11.45" height="11.97" fill="#cc8da1"/>
<rect x="63.25" y="701.34" width="11.45" height="11.97" fill="#a5648d"/>
<rect x="73.71" y="701.34" width="11.45" height="11.97" fill="#884f80"/>
<rect x="84.16" y="701.34" width="11.45" height="11.97" fill="#7c4879"/>
<rect x="94.62" y="701.34" width="11.45" height="11.97" fill="#734374"/>
<rect x="105.07" y="701.34" width="11.45" height="11.97" fill="#693d6e"/>
<rect x="115.53" y="701.34" width="11.45" height="11.97" fill="#62396a"/>
<rect x="125.98" y="701.34" width="11.45" height="11.97" fill="#5a3665"/>
<rect x="136.44" y="701.34" width="11.45" height="11.97" fill="#533260"/>
<rect x="146.89" y="701.34" width="11.45" height="11.97" fill="#4c2e5a"/>
<rect x="157.35" y="701.34" width="11.45" height="11.97" fill="#452b55"/>
<rect x="167.80" y="701.34" width="11.45" height="11.97" fill="#412951"/>
<rect x="178.26" y="701.34" width="11.45" height="11.97" fill="#3d274e"/>
<rect x="188.71" y="701.34" width="11.45" height="11.97" fill="#3b264c"/>
<rect x="199.17" y="701.34" width="11.45" height="11.97" fill="#382449"/>
<rect x="209.62" y="701.34" width="11.45" height="11.97" fill="#362347"/>
<rect x="220.08" y="701.34" width="11.45" height="11.97" fill="#352246"/>
<rect x="230.53" y="701.34" width="11.45" height="11.97" fill="#332245"/>
<rect x="240.99" y="701.34" width="11.45" height="11.97" fill="#322143"/>
<rect x="251.44" y="701.34" width="10.45" height="11.97" fill="#312142"/>
<rect x="52.80" y="712.31" width="11.45" height="11.97" fill="#d8a0aa"/>
<rect x="63.25" y="712.31" width="11.45" height="11.97" fill="#b26f93"/>
<rect x="73.71" y="712.31" width="11.45" height="11.97" fill="#985a87"/>
<rect x="84.16" y="712.31" width="11.45" height="11.97" fill="#8d5282"/>
<rect x="94.62" y="712.31" width="11.45" height="11.97" fill="#834c7d"/>
<rect x="105.07" y="712.31" width="11.45" height="11.97" fill="#774576"/>
<rect x="115.53" y="712.31" width="11.45" height="11.97" fill="#6e4071"/>
<rect x="125.98" y="712.31" width="11.45" height="11.97" fill="#663b6c"/>
<rect x="136.44" y="712.31" width="11.45" height="11.97" fill="#5d3766"/>
<rect x="146.89" y="712.31" width="11.45" height="11.97" fill="#543260"/>
<rect x="157.35" y="712.31" width="11.45" height="11.97" fill="#4c2e5a"/>
<rect x="167.80" y="712.31" width="11.45" height="11.97" fill="#472c56"/>
<rect x="178.26" y="712.31" width="11.45" height="11.97" fill="#422952"/>
<rect x="188.71" y="712.31" width="11.45" height="11.97" fill="#3f284f"/>
<rect x="199.17" y="712.31" width="11.45" height="11.97" fill="#3b264c"/>
<rect x="209.62" y="712.31" width="11.45" height="11.97" fill="#382449"/>
<rect x="220.08" y="712.31" width="11.45" height="11.97" fill="#372448"/>
<rect x="230.53" y="712.31" width="11.45" height="11.97" fill="#352346"/>
<rect x="240.99" y="712.31" width="11.45" height="11.97" fill="#342245"/>
<rect x="251.44" y="712.31" width="10.45" height="11.97" fill="#322144"/>
<rect x="52.80" y="723.27" width="11.45" height="11.97" fill="#e6bebc"/>
<rect x="63.25" y="723.27" width="11.45" height="11.97" fill="#c7869d"/>
<rect x="73.71" y="723.27" width="11.45" height="11.97" fill="#b36f93"/>
<rect x="84.16" y="723.27" width="11.45" height="11.97" fill="#a6658e"/>
<rect x="94.62" y="723.27" width="11.45" height="11.97" fill="#9b5c88"/>
<rect x="105.07" y="723.27" width="11.45" height="11.97" fill="#8d5282"/>
<rect x="115.53" y="723.27" width="11.45" height="11.97" fill="#824b7c"/>
<rect x="125.98" y="723.27" width="11.45" height="11.97" fill="#774577"/>
<rect x="136.44" y="723.27" width="11.45" height="11.97" fill="#6c3f70"/>
<rect x="146.89" y="723.27" width="11.45" height="11.97" fill="#613969"/>
<rect x="157.35" y="723.27" width="11.45" height="11.97" fill="#563362"/>
<rect x="167.80" y="723.27" width="11.45" height="11.97" fill="#50305d"/>
<rect x="178.26" y="723.27" width="11.45" height="11.97" fill="#492d58"/>
<rect x="188.71" y="723.27" width="11.45" height="11.97" fill="#452b54"/>
<rect x="199.17" y="723.27" width="11.45" height="11.97" fill="#412951"/>
<rect x="209.62" y="723.27" width="11.45" height="11.97" fill="#3d274d"/>
<rect x="220.08" y="723.27" width="11.45" height="11.97" fill="#3b254b"/>
<rect x="230.53" y="723.27" width="11.45" height="11.97" fill="#392449"/>
<rect x="240.99" y="723.27" width="11.45" height="11.97" fill="#372348"/>
<rect x="251.44" y="723.27" width="10.45" height="11.97" fill="#352246"/>
<rect x="52.80" y="734.24" width="11.45" height="10.97" fill="#f5e7e1"/>
<rect x="63.25" y="734.24" width="11.45" height="10.97" fill="#e2b4b6"/>
<rect x="73.71" y="734.24" width="11.45" height="10.97" fill="#d194a4"/>
<rect x="84.16" y="734.24" width="11.45" height="10.97" fill="#c5839c"/>
<rect x="94.62" y="734.24" width="11.45" height="10.97" fill="#b97696"/>
<rect x="105.07" y="734.24" width="11.45" height="10.97" fill="#aa688f"/>
<rect x="115.53" y="734.24" width="11.45" height="10.97" fill="#9e5e8a"/>
<rect x="125.98" y="734.24" width="11.45" height="10.97" fill="#915584"/>
<rect x="136.44" y="734.24" width="11.45" height="10.97" fill="#834c7d"/>
<rect x="146.89" y="734.24" width="11.45" height="10.97" fill="#754475"/>
<rect x="157.35" y="734.24" width="11.45" height="10.97" fill="#673c6d"/>
<rect x="167.80" y="734.24" width="11.45" height="10.97" fill="#5e3767"/>
<rect x="178.26" y="734.24" width="11.45" height="10.97" fill="#553361"/>
<rect x="188.71" y="734.24" width="11.45" height="10.97" fill="#4f305c"/>
<rect x="199.17" y="734.24" width="11.45" height="10.97" fill="#492d58"/>
<rect x="209.62" y="734.24" width="11.45" height="10.97" fill="#432a53"/>
<rect x="220.08" y="734.24" width="11.45" height="10.97" fill="#412951"/>
<rect x="230.53" y="734.24" width="11.45" height="10.97" fill="#3e274e"/>
<rect x="240.99" y="734.24" width="11.45" height="10.97" fill="#3b264c"/>
<rect x="251.44" y="734.24" width="10.45" height="10.97" fill="#382449"/>
<defs><linearGradient id="cbe" x1="0" y1="0" x2="0" y2="1"><stop offset="0.000" stop-color="#2d1e3e"/><stop offset="0.050" stop-color="#3b264c"/><stop offset="0.100" stop-color="#4a2d58"/><stop offset="0.150" stop-color="#593564"/><stop offset="0.200" stop-color="#683d6e"/><stop offset="0.250" stop-color="#774576"/><stop offset="0.300" stop-color="#854d7e"/><stop offset="0.350" stop-color="#935685"/><stop offset="0.400" stop-color="#a0608b"/><stop offset="0.450" stop-color="#ad6a90"/><stop offset="0.500" stop-color="#b87496"/><stop offset="0.550" stop-color="#c2809b"/><stop offset="0.600" stop-color="#cb8ba0"/><stop offset="0.650" stop-color="#d397a6"/><stop offset="0.700" stop-color="#daa4ac"/><stop offset="0.750" stop-color="#e1b0b4"/><stop offset="0.800" stop-color="#e6bdbc"/><stop offset="0.850" stop-color="#ebcac6"/><stop offset="0.900" stop-color="#f0d7d1"/><stop offset="0.950" stop-color="#f4e4dd"/><stop offset="1.000" stop-color="#f9f0eb"/></linearGradient></defs>
<rect x="275.3" y="525.9" width="11.099999999999966" height="219.30000000000007" fill="url(#cbe)"/>
<line x1="286.4" y1="547.30" x2="289.2" y2="547.30" stroke="#262626" stroke-width="0.8"/>
<text x="291" y="550.1999999999999" font-size="7.9" text-anchor="start" fill="#000" textLength="15" lengthAdjust="spacingAndGlyphs" style="" stroke="#000" stroke-width="0.12">1.20</text>
<line x1="286.4" y1="586.73" x2="289.2" y2="586.73" stroke="#262626" stroke-width="0.8"/>
<text x="291" y="589.6299999999999" font-size="7.9" text-anchor="start" fill="#000" textLength="15" lengthAdjust="spacingAndGlyphs" style="" stroke="#000" stroke-width="0.12">1.05</text>
<line x1="286.4" y1="626.16" x2="289.2" y2="626.16" stroke="#262626" stroke-width="0.8"/>
<text x="291" y="629.06" font-size="7.9" text-anchor="start" fill="#000" textLength="15" lengthAdjust="spacingAndGlyphs" style="" stroke="#000" stroke-width="0.12">0.90</text>
<line x1="286.4" y1="665.59" x2="289.2" y2="665.59" stroke="#262626" stroke-width="0.8"/>
<text x="291" y="668.4899999999999" font-size="7.9" text-anchor="start" fill="#000" textLength="15" lengthAdjust="spacingAndGlyphs" style="" stroke="#000" stroke-width="0.12">0.75</text>
<line x1="286.4" y1="705.02" x2="289.2" y2="705.02" stroke="#262626" stroke-width="0.8"/>
<text x="291" y="707.92" font-size="7.9" text-anchor="start" fill="#000" textLength="15" lengthAdjust="spacingAndGlyphs" style="" stroke="#000" stroke-width="0.12">0.60</text>
<line x1="286.4" y1="744.45" x2="289.2" y2="744.45" stroke="#262626" stroke-width="0.8"/>
<text x="291" y="747.3499999999999" font-size="7.9" text-anchor="start" fill="#000" textLength="15" lengthAdjust="spacingAndGlyphs" style="" stroke="#000" stroke-width="0.12">0.45</text>
<text x="320" y="636" font-size="14.7" text-anchor="middle" fill="#000" transform="rotate(-90 320 636)" textLength="67" lengthAdjust="spacingAndGlyphs" style="" stroke="#000" stroke-width="0.3">Tail-length</text>
<text x="59.8" y="759.1" font-size="14.7" text-anchor="start" fill="#000" textLength="30" lengthAdjust="spacingAndGlyphs" style="" stroke="#000" stroke-width="0.3">0.05</text>
<text x="104.8" y="759.1" font-size="14.7" text-anchor="start" fill="#000" textLength="127.1" lengthAdjust="spacingAndGlyphs" style="" stroke="#000" stroke-width="0.3">Bait coverage ---&gt;</text>
<text x="246.6" y="759.1" font-size="14.7" text-anchor="start" fill="#000" style="" stroke="#000" stroke-width="0.3">1</text>
<text x="47" y="636" font-size="14.7" text-anchor="middle" fill="#000" transform="rotate(-90 47 636)" textLength="183.4" lengthAdjust="spacingAndGlyphs" style="" stroke="#000" stroke-width="0.3">0.05 Edge coverage ---&gt; 1</text>
<rect x="369.70" y="519.40" width="11.13" height="11.96" fill="#563362"/>
<rect x="379.82" y="519.40" width="11.13" height="11.96" fill="#a0608b"/>
<rect x="389.95" y="519.40" width="11.13" height="11.96" fill="#b87496"/>
<rect x="400.07" y="519.40" width="11.13" height="11.96" fill="#b67295"/>
<rect x="410.20" y="519.40" width="11.13" height="11.96" fill="#b87496"/>
<rect x="420.32" y="519.40" width="11.13" height="11.96" fill="#b87496"/>
<rect x="430.45" y="519.40" width="11.13" height="11.96" fill="#ba7797"/>
<rect x="440.58" y="519.40" width="11.13" height="11.96" fill="#ba7797"/>
<rect x="450.70" y="519.40" width="11.13" height="11.96" fill="#ba7797"/>
<rect x="460.83" y="519.40" width="11.13" height="11.96" fill="#bb7897"/>
<rect x="470.95" y="519.40" width="11.13" height="11.96" fill="#bb7897"/>
<rect x="481.08" y="519.40" width="11.13" height="11.96" fill="#bb7897"/>
<rect x="491.20" y="519.40" width="11.13" height="11.96" fill="#bb7897"/>
<rect x="501.33" y="519.40" width="11.13" height="11.96" fill="#bb7897"/>
<rect x="511.45" y="519.40" width="11.13" height="11.96" fill="#bb7897"/>
<rect x="521.58" y="519.40" width="11.13" height="11.96" fill="#bb7897"/>
<rect x="531.70" y="519.40" width="11.13" height="11.96" fill="#bb7897"/>
<rect x="541.83" y="519.40" width="11.13" height="11.96" fill="#bb7897"/>
<rect x="551.95" y="519.40" width="11.13" height="11.96" fill="#bb7897"/>
<rect x="562.08" y="519.40" width="10.13" height="11.96" fill="#bb7897"/>
<rect x="369.70" y="530.36" width="11.13" height="11.96" fill="#563362"/>
<rect x="379.82" y="530.36" width="11.13" height="11.96" fill="#935685"/>
<rect x="389.95" y="530.36" width="11.13" height="11.96" fill="#b37094"/>
<rect x="400.07" y="530.36" width="11.13" height="11.96" fill="#b67295"/>
<rect x="410.20" y="530.36" width="11.13" height="11.96" fill="#b87496"/>
<rect x="420.32" y="530.36" width="11.13" height="11.96" fill="#b87496"/>
<rect x="430.45" y="530.36" width="11.13" height="11.96" fill="#ba7797"/>
<rect x="440.58" y="530.36" width="11.13" height="11.96" fill="#ba7797"/>
<rect x="450.70" y="530.36" width="11.13" height="11.96" fill="#ba7797"/>
<rect x="460.83" y="530.36" width="11.13" height="11.96" fill="#bb7897"/>
<rect x="470.95" y="530.36" width="11.13" height="11.96" fill="#bb7897"/>
<rect x="481.08" y="530.36" width="11.13" height="11.96" fill="#bb7897"/>
<rect x="491.20" y="530.36" width="11.13" height="11.96" fill="#bb7897"/>
<rect x="501.33" y="530.36" width="11.13" height="11.96" fill="#bb7897"/>
<rect x="511.45" y="530.36" width="11.13" height="11.96" fill="#bb7897"/>
<rect x="521.58" y="530.36" width="11.13" height="11.96" fill="#bb7897"/>
<rect x="531.70" y="530.36" width="11.13" height="11.96" fill="#bb7897"/>
<rect x="541.83" y="530.36" width="11.13" height="11.96" fill="#bb7897"/>
<rect x="551.95" y="530.36" width="11.13" height="11.96" fill="#bb7897"/>
<rect x="562.08" y="530.36" width="10.13" height="11.96" fill="#bb7897"/>
<rect x="369.70" y="541.31" width="11.13" height="11.96" fill="#352347"/>
<rect x="379.82" y="541.31" width="11.13" height="11.96" fill="#935685"/>
<rect x="389.95" y="541.31" width="11.13" height="11.96" fill="#b37094"/>
<rect x="400.07" y="541.31" width="11.13" height="11.96" fill="#b67295"/>
<rect x="410.20" y="541.31" width="11.13" height="11.96" fill="#b87496"/>
<rect x="420.32" y="541.31" width="11.13" height="11.96" fill="#b87496"/>
<rect x="430.45" y="541.31" width="11.13" height="11.96" fill="#ba7797"/>
<rect x="440.58" y="541.31" width="11.13" height="11.96" fill="#ba7797"/>
<rect x="450.70" y="541.31" width="11.13" height="11.96" fill="#ba7797"/>
<rect x="460.83" y="541.31" width="11.13" height="11.96" fill="#bb7897"/>
<rect x="470.95" y="541.31" width="11.13" height="11.96" fill="#bb7897"/>
<rect x="481.08" y="541.31" width="11.13" height="11.96" fill="#bb7897"/>
<rect x="491.20" y="541.31" width="11.13" height="11.96" fill="#bb7897"/>
<rect x="501.33" y="541.31" width="11.13" height="11.96" fill="#bb7897"/>
<rect x="511.45" y="541.31" width="11.13" height="11.96" fill="#bb7897"/>
<rect x="521.58" y="541.31" width="11.13" height="11.96" fill="#bb7897"/>
<rect x="531.70" y="541.31" width="11.13" height="11.96" fill="#bb7897"/>
<rect x="541.83" y="541.31" width="11.13" height="11.96" fill="#bb7897"/>
<rect x="551.95" y="541.31" width="11.13" height="11.96" fill="#bb7897"/>
<rect x="562.08" y="541.31" width="10.13" height="11.96" fill="#bb7897"/>
<rect x="369.70" y="552.26" width="11.13" height="11.96" fill="#472c56"/>
<rect x="379.82" y="552.26" width="11.13" height="11.96" fill="#935685"/>
<rect x="389.95" y="552.26" width="11.13" height="11.96" fill="#b37094"/>
<rect x="400.07" y="552.26" width="11.13" height="11.96" fill="#b67295"/>
<rect x="410.20" y="552.26" width="11.13" height="11.96" fill="#b87496"/>
<rect x="420.32" y="552.26" width="11.13" height="11.96" fill="#b87496"/>
<rect x="430.45" y="552.26" width="11.13" height="11.96" fill="#ba7797"/>
<rect x="440.58" y="552.26" width="11.13" height="11.96" fill="#ba7797"/>
<rect x="450.70" y="552.26" width="11.13" height="11.96" fill="#ba7797"/>
<rect x="460.83" y="552.26" width="11.13" height="11.96" fill="#bb7897"/>
<rect x="470.95" y="552.26" width="11.13" height="11.96" fill="#bb7897"/>
<rect x="481.08" y="552.26" width="11.13" height="11.96" fill="#bb7897"/>
<rect x="491.20" y="552.26" width="11.13" height="11.96" fill="#bb7897"/>
<rect x="501.33" y="552.26" width="11.13" height="11.96" fill="#bb7897"/>
<rect x="511.45" y="552.26" width="11.13" height="11.96" fill="#bb7897"/>
<rect x="521.58" y="552.26" width="11.13" height="11.96" fill="#bb7897"/>
<rect x="531.70" y="552.26" width="11.13" height="11.96" fill="#bb7897"/>
<rect x="541.83" y="552.26" width="11.13" height="11.96" fill="#bb7897"/>
<rect x="551.95" y="552.26" width="11.13" height="11.96" fill="#bb7897"/>
<rect x="562.08" y="552.26" width="10.13" height="11.96" fill="#bb7897"/>
<rect x="369.70" y="563.22" width="11.13" height="11.96" fill="#332144"/>
<rect x="379.82" y="563.22" width="11.13" height="11.96" fill="#854d7e"/>
<rect x="389.95" y="563.22" width="11.13" height="11.96" fill="#ad6a90"/>
<rect x="400.07" y="563.22" width="11.13" height="11.96" fill="#b67295"/>
<rect x="410.20" y="563.22" width="11.13" height="11.96" fill="#b87496"/>
<rect x="420.32" y="563.22" width="11.13" height="11.96" fill="#b87496"/>
<rect x="430.45" y="563.22" width="11.13" height="11.96" fill="#ba7797"/>
<rect x="440.58" y="563.22" width="11.13" height="11.96" fill="#ba7797"/>
<rect x="450.70" y="563.22" width="11.13" height="11.96" fill="#ba7797"/>
<rect x="460.83" y="563.22" width="11.13" height="11.96" fill="#bb7897"/>
<rect x="470.95" y="563.22" width="11.13" height="11.96" fill="#bb7897"/>
<rect x="481.08" y="563.22" width="11.13" height="11.96" fill="#bb7897"/>
<rect x="491.20" y="563.22" width="11.13" height="11.96" fill="#bb7897"/>
<rect x="501.33" y="563.22" width="11.13" height="11.96" fill="#bb7897"/>
<rect x="511.45" y="563.22" width="11.13" height="11.96" fill="#bb7897"/>
<rect x="521.58" y="563.22" width="11.13" height="11.96" fill="#bb7897"/>
<rect x="531.70" y="563.22" width="11.13" height="11.96" fill="#bb7897"/>
<rect x="541.83" y="563.22" width="11.13" height="11.96" fill="#bb7897"/>
<rect x="551.95" y="563.22" width="11.13" height="11.96" fill="#bb7897"/>
<rect x="562.08" y="563.22" width="10.13" height="11.96" fill="#bb7897"/>
<rect x="369.70" y="574.17" width="11.13" height="11.96" fill="#382449"/>
<rect x="379.82" y="574.17" width="11.13" height="11.96" fill="#8b5181"/>
<rect x="389.95" y="574.17" width="11.13" height="11.96" fill="#ad6a90"/>
<rect x="400.07" y="574.17" width="11.13" height="11.96" fill="#b67295"/>
<rect x="410.20" y="574.17" width="11.13" height="11.96" fill="#b87496"/>
<rect x="420.32" y="574.17" width="11.13" height="11.96" fill="#b87496"/>
<rect x="430.45" y="574.17" width="11.13" height="11.96" fill="#ba7797"/>
<rect x="440.58" y="574.17" width="11.13" height="11.96" fill="#ba7797"/>
<rect x="450.70" y="574.17" width="11.13" height="11.96" fill="#ba7797"/>
<rect x="460.83" y="574.17" width="11.13" height="11.96" fill="#bb7897"/>
<rect x="470.95" y="574.17" width="11.13" height="11.96" fill="#bb7897"/>
<rect x="481.08" y="574.17" width="11.13" height="11.96" fill="#bb7897"/>
<rect x="491.20" y="574.17" width="11.13" height="11.96" fill="#bb7897"/>
<rect x="501.33" y="574.17" width="11.13" height="11.96" fill="#bb7897"/>
<rect x="511.45" y="574.17" width="11.13" height="11.96" fill="#bb7897"/>
<rect x="521.58" y="574.17" width="11.13" height="11.96" fill="#bb7897"/>
<rect x="531.70" y="574.17" width="11.13" height="11.96" fill="#bb7897"/>
<rect x="541.83" y="574.17" width="11.13" height="11.96" fill="#bb7897"/>
<rect x="551.95" y="574.17" width="11.13" height="11.96" fill="#bb7897"/>
<rect x="562.08" y="574.17" width="10.13" height="11.96" fill="#bb7897"/>
<rect x="369.70" y="585.13" width="11.13" height="11.96" fill="#472c56"/>
<rect x="379.82" y="585.13" width="11.13" height="11.96" fill="#935685"/>
<rect x="389.95" y="585.13" width="11.13" height="11.96" fill="#b37094"/>
<rect x="400.07" y="585.13" width="11.13" height="11.96" fill="#b67295"/>
<rect x="410.20" y="585.13" width="11.13" height="11.96" fill="#b87496"/>
<rect x="420.32" y="585.13" width="11.13" height="11.96" fill="#b87496"/>
<rect x="430.45" y="585.13" width="11.13" height="11.96" fill="#ba7797"/>
<rect x="440.58" y="585.13" width="11.13" height="11.96" fill="#ba7797"/>
<rect x="450.70" y="585.13" width="11.13" height="11.96" fill="#ba7797"/>
<rect x="460.83" y="585.13" width="11.13" height="11.96" fill="#bb7897"/>
<rect x="470.95" y="585.13" width="11.13" height="11.96" fill="#bb7897"/>
<rect x="481.08" y="585.13" width="11.13" height="11.96" fill="#bb7897"/>
<rect x="491.20" y="585.13" width="11.13" height="11.96" fill="#bb7897"/>
<rect x="501.33" y="585.13" width="11.13" height="11.96" fill="#bb7897"/>
<rect x="511.45" y="585.13" width="11.13" height="11.96" fill="#bb7897"/>
<rect x="521.58" y="585.13" width="11.13" height="11.96" fill="#bb7897"/>
<rect x="531.70" y="585.13" width="11.13" height="11.96" fill="#bb7897"/>
<rect x="541.83" y="585.13" width="11.13" height="11.96" fill="#bb7897"/>
<rect x="551.95" y="585.13" width="11.13" height="11.96" fill="#bb7897"/>
<rect x="562.08" y="585.13" width="10.13" height="11.96" fill="#bb7897"/>
<rect x="369.70" y="596.09" width="11.13" height="11.96" fill="#4d2f5b"/>
<rect x="379.82" y="596.09" width="11.13" height="11.96" fill="#804a7b"/>
<rect x="389.95" y="596.09" width="11.13" height="11.96" fill="#b37094"/>
<rect x="400.07" y="596.09" width="11.13" height="11.96" fill="#b57294"/>
<rect x="410.20" y="596.09" width="11.13" height="11.96" fill="#b87496"/>
<rect x="420.32" y="596.09" width="11.13" height="11.96" fill="#b87496"/>
<rect x="430.45" y="596.09" width="11.13" height="11.96" fill="#ba7797"/>
<rect x="440.58" y="596.09" width="11.13" height="11.96" fill="#ba7797"/>
<rect x="450.70" y="596.09" width="11.13" height="11.96" fill="#ba7797"/>
<rect x="460.83" y="596.09" width="11.13" height="11.96" fill="#bb7897"/>
<rect x="470.95" y="596.09" width="11.13" height="11.96" fill="#bb7897"/>
<rect x="481.08" y="596.09" width="11.13" height="11.96" fill="#bb7897"/>
<rect x="491.20" y="596.09" width="11.13" height="11.96" fill="#bb7897"/>
<rect x="501.33" y="596.09" width="11.13" height="11.96" fill="#bb7897"/>
<rect x="511.45" y="596.09" width="11.13" height="11.96" fill="#bb7897"/>
<rect x="521.58" y="596.09" width="11.13" height="11.96" fill="#bb7897"/>
<rect x="531.70" y="596.09" width="11.13" height="11.96" fill="#bb7897"/>
<rect x="541.83" y="596.09" width="11.13" height="11.96" fill="#bb7897"/>
<rect x="551.95" y="596.09" width="11.13" height="11.96" fill="#bb7897"/>
<rect x="562.08" y="596.09" width="10.13" height="11.96" fill="#bb7897"/>
<rect x="369.70" y="607.04" width="11.13" height="11.96" fill="#53325f"/>
<rect x="379.82" y="607.04" width="11.13" height="11.96" fill="#935685"/>
<rect x="389.95" y="607.04" width="11.13" height="11.96" fill="#b37094"/>
<rect x="400.07" y="607.04" width="11.13" height="11.96" fill="#b57294"/>
<rect x="410.20" y="607.04" width="11.13" height="11.96" fill="#b77495"/>
<rect x="420.32" y="607.04" width="11.13" height="11.96" fill="#b87496"/>
<rect x="430.45" y="607.04" width="11.13" height="11.96" fill="#ba7797"/>
<rect x="440.58" y="607.04" width="11.13" height="11.96" fill="#ba7797"/>
<rect x="450.70" y="607.04" width="11.13" height="11.96" fill="#ba7797"/>
<rect x="460.83" y="607.04" width="11.13" height="11.96" fill="#bb7897"/>
<rect x="470.95" y="607.04" width="11.13" height="11.96" fill="#bb7897"/>
<rect x="481.08" y="607.04" width="11.13" height="11.96" fill="#bb7897"/>
<rect x="491.20" y="607.04" width="11.13" height="11.96" fill="#bb7897"/>
<rect x="501.33" y="607.04" width="11.13" height="11.96" fill="#bb7897"/>
<rect x="511.45" y="607.04" width="11.13" height="11.96" fill="#bb7897"/>
<rect x="521.58" y="607.04" width="11.13" height="11.96" fill="#bb7897"/>
<rect x="531.70" y="607.04" width="11.13" height="11.96" fill="#bb7897"/>
<rect x="541.83" y="607.04" width="11.13" height="11.96" fill="#bb7897"/>
<rect x="551.95" y="607.04" width="11.13" height="11.96" fill="#bb7897"/>
<rect x="562.08" y="607.04" width="10.13" height="11.96" fill="#bb7897"/>
<rect x="369.70" y="618.00" width="11.13" height="11.96" fill="#53325f"/>
<rect x="379.82" y="618.00" width="11.13" height="11.96" fill="#935685"/>
<rect x="389.95" y="618.00" width="11.13" height="11.96" fill="#b87496"/>
<rect x="400.07" y="618.00" width="11.13" height="11.96" fill="#b57294"/>
<rect x="410.20" y="618.00" width="11.13" height="11.96" fill="#b77495"/>
<rect x="420.32" y="618.00" width="11.13" height="11.96" fill="#b77495"/>
<rect x="430.45" y="618.00" width="11.13" height="11.96" fill="#ba7797"/>
<rect x="440.58" y="618.00" width="11.13" height="11.96" fill="#ba7797"/>
<rect x="450.70" y="618.00" width="11.13" height="11.96" fill="#ba7797"/>
<rect x="460.83" y="618.00" width="11.13" height="11.96" fill="#bb7897"/>
<rect x="470.95" y="618.00" width="11.13" height="11.96" fill="#bb7897"/>
<rect x="481.08" y="618.00" width="11.13" height="11.96" fill="#bb7897"/>
<rect x="491.20" y="618.00" width="11.13" height="11.96" fill="#bb7897"/>
<rect x="501.33" y="618.00" width="11.13" height="11.96" fill="#bb7897"/>
<rect x="511.45" y="618.00" width="11.13" height="11.96" fill="#bb7897"/>
<rect x="521.58" y="618.00" width="11.13" height="11.96" fill="#bb7897"/>
<rect x="531.70" y="618.00" width="11.13" height="11.96" fill="#bb7897"/>
<rect x="541.83" y="618.00" width="11.13" height="11.96" fill="#bb7897"/>
<rect x="551.95" y="618.00" width="11.13" height="11.96" fill="#bb7897"/>
<rect x="562.08" y="618.00" width="10.13" height="11.96" fill="#bb7897"/>
<rect x="369.70" y="628.95" width="11.13" height="11.96" fill="#5c3666"/>
<rect x="379.82" y="628.95" width="11.13" height="11.96" fill="#935685"/>
<rect x="389.95" y="628.95" width="11.13" height="11.96" fill="#ad6a90"/>
<rect x="400.07" y="628.95" width="11.13" height="11.96" fill="#b47194"/>
<rect x="410.20" y="628.95" width="11.13" height="11.96" fill="#b77495"/>
<rect x="420.32" y="628.95" width="11.13" height="11.96" fill="#b67395"/>
<rect x="430.45" y="628.95" width="11.13" height="11.96" fill="#b97696"/>
<rect x="440.58" y="628.95" width="11.13" height="11.96" fill="#ba7797"/>
<rect x="450.70" y="628.95" width="11.13" height="11.96" fill="#ba7797"/>
<rect x="460.83" y="628.95" width="11.13" height="11.96" fill="#bb7897"/>
<rect x="470.95" y="628.95" width="11.13" height="11.96" fill="#bb7897"/>
<rect x="481.08" y="628.95" width="11.13" height="11.96" fill="#bb7897"/>
<rect x="491.20" y="628.95" width="11.13" height="11.96" fill="#bb7897"/>
<rect x="501.33" y="628.95" width="11.13" height="11.96" fill="#bb7897"/>
<rect x="511.45" y="628.95" width="11.13" height="11.96" fill="#bb7897"/>
<rect x="521.58" y="628.95" width="11.13" height="11.96" fill="#bb7897"/>
<rect x="531.70" y="628.95" width="11.13" height="11.96" fill="#bb7897"/>
<rect x="541.83" y="628.95" width="11.13" height="11.96" fill="#bb7897"/>
<rect x="551.95" y="628.95" width="11.13" height="11.96" fill="#bb7897"/>
<rect x="562.08" y="628.95" width="10.13" height="11.96" fill="#bb7897"/>
<rect x="369.70" y="639.90" width="11.13" height="11.96" fill="#5c3666"/>
<rect x="379.82" y="639.90" width="11.13" height="11.96" fill="#935685"/>
<rect x="389.95" y="639.90" width="11.13" height="11.96" fill="#ad6a90"/>
<rect x="400.07" y="639.90" width="11.13" height="11.96" fill="#b67295"/>
<rect x="410.20" y="639.90" width="11.13" height="11.96" fill="#b67295"/>
<rect x="420.32" y="639.90" width="11.13" height="11.96" fill="#b77395"/>
<rect x="430.45" y="639.90" width="11.13" height="11.96" fill="#b97696"/>
<rect x="440.58" y="639.90" width="11.13" height="11.96" fill="#b97696"/>
<rect x="450.70" y="639.90" width="11.13" height="11.96" fill="#ba7797"/>
<rect x="460.83" y="639.90" width="11.13" height="11.96" fill="#bb7897"/>
<rect x="470.95" y="639.90" width="11.13" height="11.96" fill="#bb7897"/>
<rect x="481.08" y="639.90" width="11.13" height="11.96" fill="#bb7897"/>
<rect x="491.20" y="639.90" width="11.13" height="11.96" fill="#bb7897"/>
<rect x="501.33" y="639.90" width="11.13" height="11.96" fill="#bb7897"/>
<rect x="511.45" y="639.90" width="11.13" height="11.96" fill="#bb7897"/>
<rect x="521.58" y="639.90" width="11.13" height="11.96" fill="#bb7897"/>
<rect x="531.70" y="639.90" width="11.13" height="11.96" fill="#bb7897"/>
<rect x="541.83" y="639.90" width="11.13" height="11.96" fill="#bb7897"/>
<rect x="551.95" y="639.90" width="11.13" height="11.96" fill="#bb7897"/>
<rect x="562.08" y="639.90" width="10.13" height="11.96" fill="#bb7897"/>
<rect x="369.70" y="650.86" width="11.13" height="11.96" fill="#915484"/>
<rect x="379.82" y="650.86" width="11.13" height="11.96" fill="#804a7b"/>
<rect x="389.95" y="650.86" width="11.13" height="11.96" fill="#a8668e"/>
<rect x="400.07" y="650.86" width="11.13" height="11.96" fill="#b57294"/>
<rect x="410.20" y="650.86" width="11.13" height="11.96" fill="#b57294"/>
<rect x="420.32" y="650.86" width="11.13" height="11.96" fill="#b77395"/>
<rect x="430.45" y="650.86" width="11.13" height="11.96" fill="#b97696"/>
<rect x="440.58" y="650.86" width="11.13" height="11.96" fill="#b97696"/>
<rect x="450.70" y="650.86" width="11.13" height="11.96" fill="#ba7696"/>
<rect x="460.83" y="650.86" width="11.13" height="11.96" fill="#bb7897"/>
<rect x="470.95" y="650.86" width="11.13" height="11.96" fill="#bb7897"/>
<rect x="481.08" y="650.86" width="11.13" height="11.96" fill="#bb7897"/>
<rect x="491.20" y="650.86" width="11.13" height="11.96" fill="#bb7897"/>
<rect x="501.33" y="650.86" width="11.13" height="11.96" fill="#bb7897"/>
<rect x="511.45" y="650.86" width="11.13" height="11.96" fill="#bb7897"/>
<rect x="521.58" y="650.86" width="11.13" height="11.96" fill="#bb7897"/>
<rect x="531.70" y="650.86" width="11.13" height="11.96" fill="#bb7897"/>
<rect x="541.83" y="650.86" width="11.13" height="11.96" fill="#bb7897"/>
<rect x="551.95" y="650.86" width="11.13" height="11.96" fill="#bb7897"/>
<rect x="562.08" y="650.86" width="10.13" height="11.96" fill="#bb7897"/>
<rect x="369.70" y="661.82" width="11.13" height="11.96" fill="#a0608b"/>
<rect x="379.82" y="661.82" width="11.13" height="11.96" fill="#804a7b"/>
<rect x="389.95" y="661.82" width="11.13" height="11.96" fill="#a8668e"/>
<rect x="400.07" y="661.82" width="11.13" height="11.96" fill="#b37094"/>
<rect x="410.20" y="661.82" width="11.13" height="11.96" fill="#b67395"/>
<rect x="420.32" y="661.82" width="11.13" height="11.96" fill="#b57294"/>
<rect x="430.45" y="661.82" width="11.13" height="11.96" fill="#b97696"/>
<rect x="440.58" y="661.82" width="11.13" height="11.96" fill="#b97696"/>
<rect x="450.70" y="661.82" width="11.13" height="11.96" fill="#b97696"/>
<rect x="460.83" y="661.82" width="11.13" height="11.96" fill="#bb7797"/>
<rect x="470.95" y="661.82" width="11.13" height="11.96" fill="#bb7897"/>
<rect x="481.08" y="661.82" width="11.13" height="11.96" fill="#bb7897"/>
<rect x="491.20" y="661.82" width="11.13" height="11.96" fill="#bb7897"/>
<rect x="501.33" y="661.82" width="11.13" height="11.96" fill="#bb7897"/>
<rect x="511.45" y="661.82" width="11.13" height="11.96" fill="#bb7897"/>
<rect x="521.58" y="661.82" width="11.13" height="11.96" fill="#bb7897"/>
<rect x="531.70" y="661.82" width="11.13" height="11.96" fill="#bb7897"/>
<rect x="541.83" y="661.82" width="11.13" height="11.96" fill="#bb7897"/>
<rect x="551.95" y="661.82" width="11.13" height="11.96" fill="#bb7897"/>
<rect x="562.08" y="661.82" width="10.13" height="11.96" fill="#bb7897"/>
<rect x="369.70" y="672.77" width="11.13" height="11.96" fill="#a8668e"/>
<rect x="379.82" y="672.77" width="11.13" height="11.96" fill="#ad6a90"/>
<rect x="389.95" y="672.77" width="11.13" height="11.96" fill="#ad6a90"/>
<rect x="400.07" y="672.77" width="11.13" height="11.96" fill="#b47094"/>
<rect x="410.20" y="672.77" width="11.13" height="11.96" fill="#b67295"/>
<rect x="420.32" y="672.77" width="11.13" height="11.96" fill="#b67395"/>
<rect x="430.45" y="672.77" width="11.13" height="11.96" fill="#b77395"/>
<rect x="440.58" y="672.77" width="11.13" height="11.96" fill="#b87496"/>
<rect x="450.70" y="672.77" width="11.13" height="11.96" fill="#b97696"/>
<rect x="460.83" y="672.77" width="11.13" height="11.96" fill="#ba7797"/>
<rect x="470.95" y="672.77" width="11.13" height="11.96" fill="#bb7897"/>
<rect x="481.08" y="672.77" width="11.13" height="11.96" fill="#bb7897"/>
<rect x="491.20" y="672.77" width="11.13" height="11.96" fill="#bb7897"/>
<rect x="501.33" y="672.77" width="11.13" height="11.96" fill="#bb7897"/>
<rect x="511.45" y="672.77" width="11.13" height="11.96" fill="#bb7897"/>
<rect x="521.58" y="672.77" width="11.13" height="11.96" fill="#bb7897"/>
<rect x="531.70" y="672.77" width="11.13" height="11.96" fill="#bb7897"/>
<rect x="541.83" y="672.77" width="11.13" height="11.96" fill="#bb7897"/>
<rect x="551.95" y="672.77" width="11.13" height="11.96" fill="#bb7897"/>
<rect x="562.08" y="672.77" width="10.13" height="11.96" fill="#bb7897"/>
<rect x="369.70" y="683.73" width="11.13" height="11.96" fill="#ad6a90"/>
<rect x="379.82" y="683.73" width="11.13" height="11.96" fill="#ad6a90"/>
<rect x="389.95" y="683.73" width="11.13" height="11.96" fill="#a0608b"/>
<rect x="400.07" y="683.73" width="11.13" height="11.96" fill="#af6c92"/>
<rect x="410.20" y="683.73" width="11.13" height="11.96" fill="#b77495"/>
<rect x="420.32" y="683.73" width="11.13" height="11.96" fill="#b57294"/>
<rect x="430.45" y="683.73" width="11.13" height="11.96" fill="#b77395"/>
<rect x="440.58" y="683.73" width="11.13" height="11.96" fill="#b87495"/>
<rect x="450.70" y="683.73" width="11.13" height="11.96" fill="#b97596"/>
<rect x="460.83" y="683.73" width="11.13" height="11.96" fill="#bb7797"/>
<rect x="470.95" y="683.73" width="11.13" height="11.96" fill="#ba7797"/>
<rect x="481.08" y="683.73" width="11.13" height="11.96" fill="#bb7897"/>
<rect x="491.20" y="683.73" width="11.13" height="11.96" fill="#bb7897"/>
<rect x="501.33" y="683.73" width="11.13" height="11.96" fill="#bb7897"/>
<rect x="511.45" y="683.73" width="11.13" height="11.96" fill="#bb7897"/>
<rect x="521.58" y="683.73" width="11.13" height="11.96" fill="#bb7897"/>
<rect x="531.70" y="683.73" width="11.13" height="11.96" fill="#bb7897"/>
<rect x="541.83" y="683.73" width="11.13" height="11.96" fill="#bb7897"/>
<rect x="551.95" y="683.73" width="11.13" height="11.96" fill="#bb7897"/>
<rect x="562.08" y="683.73" width="10.13" height="11.96" fill="#bb7897"/>
<rect x="369.70" y="694.68" width="11.13" height="11.96" fill="#c8869e"/>
<rect x="379.82" y="694.68" width="11.13" height="11.96" fill="#c8869e"/>
<rect x="389.95" y="694.68" width="11.13" height="11.96" fill="#b37094"/>
<rect x="400.07" y="694.68" width="11.13" height="11.96" fill="#b57194"/>
<rect x="410.20" y="694.68" width="11.13" height="11.96" fill="#b57294"/>
<rect x="420.32" y="694.68" width="11.13" height="11.96" fill="#ab6990"/>
<rect x="430.45" y="694.68" width="11.13" height="11.96" fill="#ba7797"/>
<rect x="440.58" y="694.68" width="11.13" height="11.96" fill="#b77495"/>
<rect x="450.70" y="694.68" width="11.13" height="11.96" fill="#b67395"/>
<rect x="460.83" y="694.68" width="11.13" height="11.96" fill="#ba7797"/>
<rect x="470.95" y="694.68" width="11.13" height="11.96" fill="#ba7797"/>
<rect x="481.08" y="694.68" width="11.13" height="11.96" fill="#bb7897"/>
<rect x="491.20" y="694.68" width="11.13" height="11.96" fill="#bb7897"/>
<rect x="501.33" y="694.68" width="11.13" height="11.96" fill="#bb7897"/>
<rect x="511.45" y="694.68" width="11.13" height="11.96" fill="#bb7897"/>
<rect x="521.58" y="694.68" width="11.13" height="11.96" fill="#bb7897"/>
<rect x="531.70" y="694.68" width="11.13" height="11.96" fill="#bb7897"/>
<rect x="541.83" y="694.68" width="11.13" height="11.96" fill="#bb7897"/>
<rect x="551.95" y="694.68" width="11.13" height="11.96" fill="#bb7897"/>
<rect x="562.08" y="694.68" width="10.13" height="11.96" fill="#bb7897"/>
<rect x="369.70" y="705.63" width="11.13" height="11.96" fill="#cb8ba0"/>
<rect x="379.82" y="705.63" width="11.13" height="11.96" fill="#e4b8b8"/>
<rect x="389.95" y="705.63" width="11.13" height="11.96" fill="#c8869e"/>
<rect x="400.07" y="705.63" width="11.13" height="11.96" fill="#ba7797"/>
<rect x="410.20" y="705.63" width="11.13" height="11.96" fill="#bf7c99"/>
<rect x="420.32" y="705.63" width="11.13" height="11.96" fill="#ba7797"/>
<rect x="430.45" y="705.63" width="11.13" height="11.96" fill="#b57294"/>
<rect x="440.58" y="705.63" width="11.13" height="11.96" fill="#b87596"/>
<rect x="450.70" y="705.63" width="11.13" height="11.96" fill="#ba7797"/>
<rect x="460.83" y="705.63" width="11.13" height="11.96" fill="#ba7797"/>
<rect x="470.95" y="705.63" width="11.13" height="11.96" fill="#b87596"/>
<rect x="481.08" y="705.63" width="11.13" height="11.96" fill="#bb7897"/>
<rect x="491.20" y="705.63" width="11.13" height="11.96" fill="#bb7897"/>
<rect x="501.33" y="705.63" width="11.13" height="11.96" fill="#bb7897"/>
<rect x="511.45" y="705.63" width="11.13" height="11.96" fill="#bb7897"/>
<rect x="521.58" y="705.63" width="11.13" height="11.96" fill="#bb7897"/>
<rect x="531.70" y="705.63" width="11.13" height="11.96" fill="#bb7897"/>
<rect x="541.83" y="705.63" width="11.13" height="11.96" fill="#bb7897"/>
<rect x="551.95" y="705.63" width="11.13" height="11.96" fill="#bb7897"/>
<rect x="562.08" y="705.63" width="10.13" height="11.96" fill="#bb7897"/>
<rect x="369.70" y="716.59" width="11.13" height="11.96" fill="#f1dcd6"/>
<rect x="379.82" y="716.59" width="11.13" height="11.96" fill="#daa4ac"/>
<rect x="389.95" y="716.59" width="11.13" height="11.96" fill="#d397a6"/>
<rect x="400.07" y="716.59" width="11.13" height="11.96" fill="#cb8ba0"/>
<rect x="410.20" y="716.59" width="11.13" height="11.96" fill="#c2809b"/>
<rect x="420.32" y="716.59" width="11.13" height="11.96" fill="#bf7d99"/>
<rect x="430.45" y="716.59" width="11.13" height="11.96" fill="#ba7696"/>
<rect x="440.58" y="716.59" width="11.13" height="11.96" fill="#b47194"/>
<rect x="450.70" y="716.59" width="11.13" height="11.96" fill="#b77495"/>
<rect x="460.83" y="716.59" width="11.13" height="11.96" fill="#b97696"/>
<rect x="470.95" y="716.59" width="11.13" height="11.96" fill="#bb7897"/>
<rect x="481.08" y="716.59" width="11.13" height="11.96" fill="#bb7897"/>
<rect x="491.20" y="716.59" width="11.13" height="11.96" fill="#bb7897"/>
<rect x="501.33" y="716.59" width="11.13" height="11.96" fill="#bb7897"/>
<rect x="511.45" y="716.59" width="11.13" height="11.96" fill="#bb7897"/>
<rect x="521.58" y="716.59" width="11.13" height="11.96" fill="#bb7897"/>
<rect x="531.70" y="716.59" width="11.13" height="11.96" fill="#bb7897"/>
<rect x="541.83" y="716.59" width="11.13" height="11.96" fill="#bb7897"/>
<rect x="551.95" y="716.59" width="11.13" height="11.96" fill="#bb7897"/>
<rect x="562.08" y="716.59" width="10.13" height="11.96" fill="#bb7897"/>
<rect x="369.70" y="727.55" width="11.13" height="10.96" fill="#f7ebe5"/>
<rect x="379.82" y="727.55" width="11.13" height="10.96" fill="#f3e1db"/>
<rect x="389.95" y="727.55" width="11.13" height="10.96" fill="#f1dcd6"/>
<rect x="400.07" y="727.55" width="11.13" height="10.96" fill="#e4b8b8"/>
<rect x="410.20" y="727.55" width="11.13" height="10.96" fill="#e8c3c0"/>
<rect x="420.32" y="727.55" width="11.13" height="10.96" fill="#ce90a2"/>
<rect x="430.45" y="727.55" width="11.13" height="10.96" fill="#c8869e"/>
<rect x="440.58" y="727.55" width="11.13" height="10.96" fill="#c8869e"/>
<rect x="450.70" y="727.55" width="11.13" height="10.96" fill="#c8869e"/>
<rect x="460.83" y="727.55" width="11.13" height="10.96" fill="#be7b99"/>
<rect x="470.95" y="727.55" width="11.13" height="10.96" fill="#be7b99"/>
<rect x="481.08" y="727.55" width="11.13" height="10.96" fill="#be7b99"/>
<rect x="491.20" y="727.55" width="11.13" height="10.96" fill="#be7b99"/>
<rect x="501.33" y="727.55" width="11.13" height="10.96" fill="#be7b99"/>
<rect x="511.45" y="727.55" width="11.13" height="10.96" fill="#be7b99"/>
<rect x="521.58" y="727.55" width="11.13" height="10.96" fill="#be7b99"/>
<rect x="531.70" y="727.55" width="11.13" height="10.96" fill="#be7b99"/>
<rect x="541.83" y="727.55" width="11.13" height="10.96" fill="#be7b99"/>
<rect x="551.95" y="727.55" width="11.13" height="10.96" fill="#be7b99"/>
<rect x="562.08" y="727.55" width="10.13" height="10.96" fill="#be7b99"/>
<defs><linearGradient id="cbf" x1="0" y1="0" x2="0" y2="1"><stop offset="0.000" stop-color="#2d1e3e"/><stop offset="0.050" stop-color="#3b264c"/><stop offset="0.100" stop-color="#4a2d58"/><stop offset="0.150" stop-color="#593564"/><stop offset="0.200" stop-color="#683d6e"/><stop offset="0.250" stop-color="#774576"/><stop offset="0.300" stop-color="#854d7e"/><stop offset="0.350" stop-color="#935685"/><stop offset="0.400" stop-color="#a0608b"/><stop offset="0.450" stop-color="#ad6a90"/><stop offset="0.500" stop-color="#b87496"/><stop offset="0.550" stop-color="#c2809b"/><stop offset="0.600" stop-color="#cb8ba0"/><stop offset="0.650" stop-color="#d397a6"/><stop offset="0.700" stop-color="#daa4ac"/><stop offset="0.750" stop-color="#e1b0b4"/><stop offset="0.800" stop-color="#e6bdbc"/><stop offset="0.850" stop-color="#ebcac6"/><stop offset="0.900" stop-color="#f0d7d1"/><stop offset="0.950" stop-color="#f4e4dd"/><stop offset="1.000" stop-color="#f9f0eb"/></linearGradient></defs>
<rect x="584.9" y="519.4" width="10.899999999999977" height="219.10000000000002" fill="url(#cbf)"/>
<line x1="595.8" y1="545.60" x2="598.6" y2="545.60" stroke="#262626" stroke-width="0.8"/>
<text x="600.3" y="548.5" font-size="7.9" text-anchor="start" fill="#000" textLength="23.8" lengthAdjust="spacingAndGlyphs" style="" stroke="#000" stroke-width="0.12">0.0032</text>
<line x1="595.8" y1="594.20" x2="598.6" y2="594.20" stroke="#262626" stroke-width="0.8"/>
<text x="600.3" y="597.1" font-size="7.9" text-anchor="start" fill="#000" textLength="23.8" lengthAdjust="spacingAndGlyphs" style="" stroke="#000" stroke-width="0.12">0.0024</text>
<line x1="595.8" y1="642.80" x2="598.6" y2="642.80" stroke="#262626" stroke-width="0.8"/>
<text x="600.3" y="645.7" font-size="7.9" text-anchor="start" fill="#000" textLength="23.8" lengthAdjust="spacingAndGlyphs" style="" stroke="#000" stroke-width="0.12">0.0016</text>
<line x1="595.8" y1="691.40" x2="598.6" y2="691.40" stroke="#262626" stroke-width="0.8"/>
<text x="600.3" y="694.3000000000001" font-size="7.9" text-anchor="start" fill="#000" textLength="23.8" lengthAdjust="spacingAndGlyphs" style="" stroke="#000" stroke-width="0.12">0.0008</text>
<line x1="595.8" y1="740.00" x2="598.6" y2="740.00" stroke="#262626" stroke-width="0.8"/>
<text x="600.3" y="742.9" font-size="7.9" text-anchor="start" fill="#000" textLength="23.8" lengthAdjust="spacingAndGlyphs" style="" stroke="#000" stroke-width="0.12">0.0000</text>
<text x="638.5" y="628.2" font-size="14.7" text-anchor="middle" fill="#000" transform="rotate(-90 638.5 628.2)" textLength="132" lengthAdjust="spacingAndGlyphs" style="" stroke="#000" stroke-width="0.3">clustering coefficient</text>
<text x="373.1" y="752.1" font-size="14.7" text-anchor="start" fill="#000" textLength="30" lengthAdjust="spacingAndGlyphs" style="" stroke="#000" stroke-width="0.3">0.05</text>
<text x="418.1" y="752.1" font-size="14.7" text-anchor="start" fill="#000" textLength="126.4" lengthAdjust="spacingAndGlyphs" style="" stroke="#000" stroke-width="0.3">Bait coverage ---&gt;</text>
<text x="559.4" y="752.1" font-size="14.7" text-anchor="start" fill="#000" style="" stroke="#000" stroke-width="0.3">1</text>
<text x="364.1" y="628.9" font-size="14.7" text-anchor="middle" fill="#000" transform="rotate(-90 364.1 628.9)" textLength="183.2" lengthAdjust="spacingAndGlyphs" style="" stroke="#000" stroke-width="0.3">0.05 Edge coverage ---&gt; 1</text>
</svg></body></html>
